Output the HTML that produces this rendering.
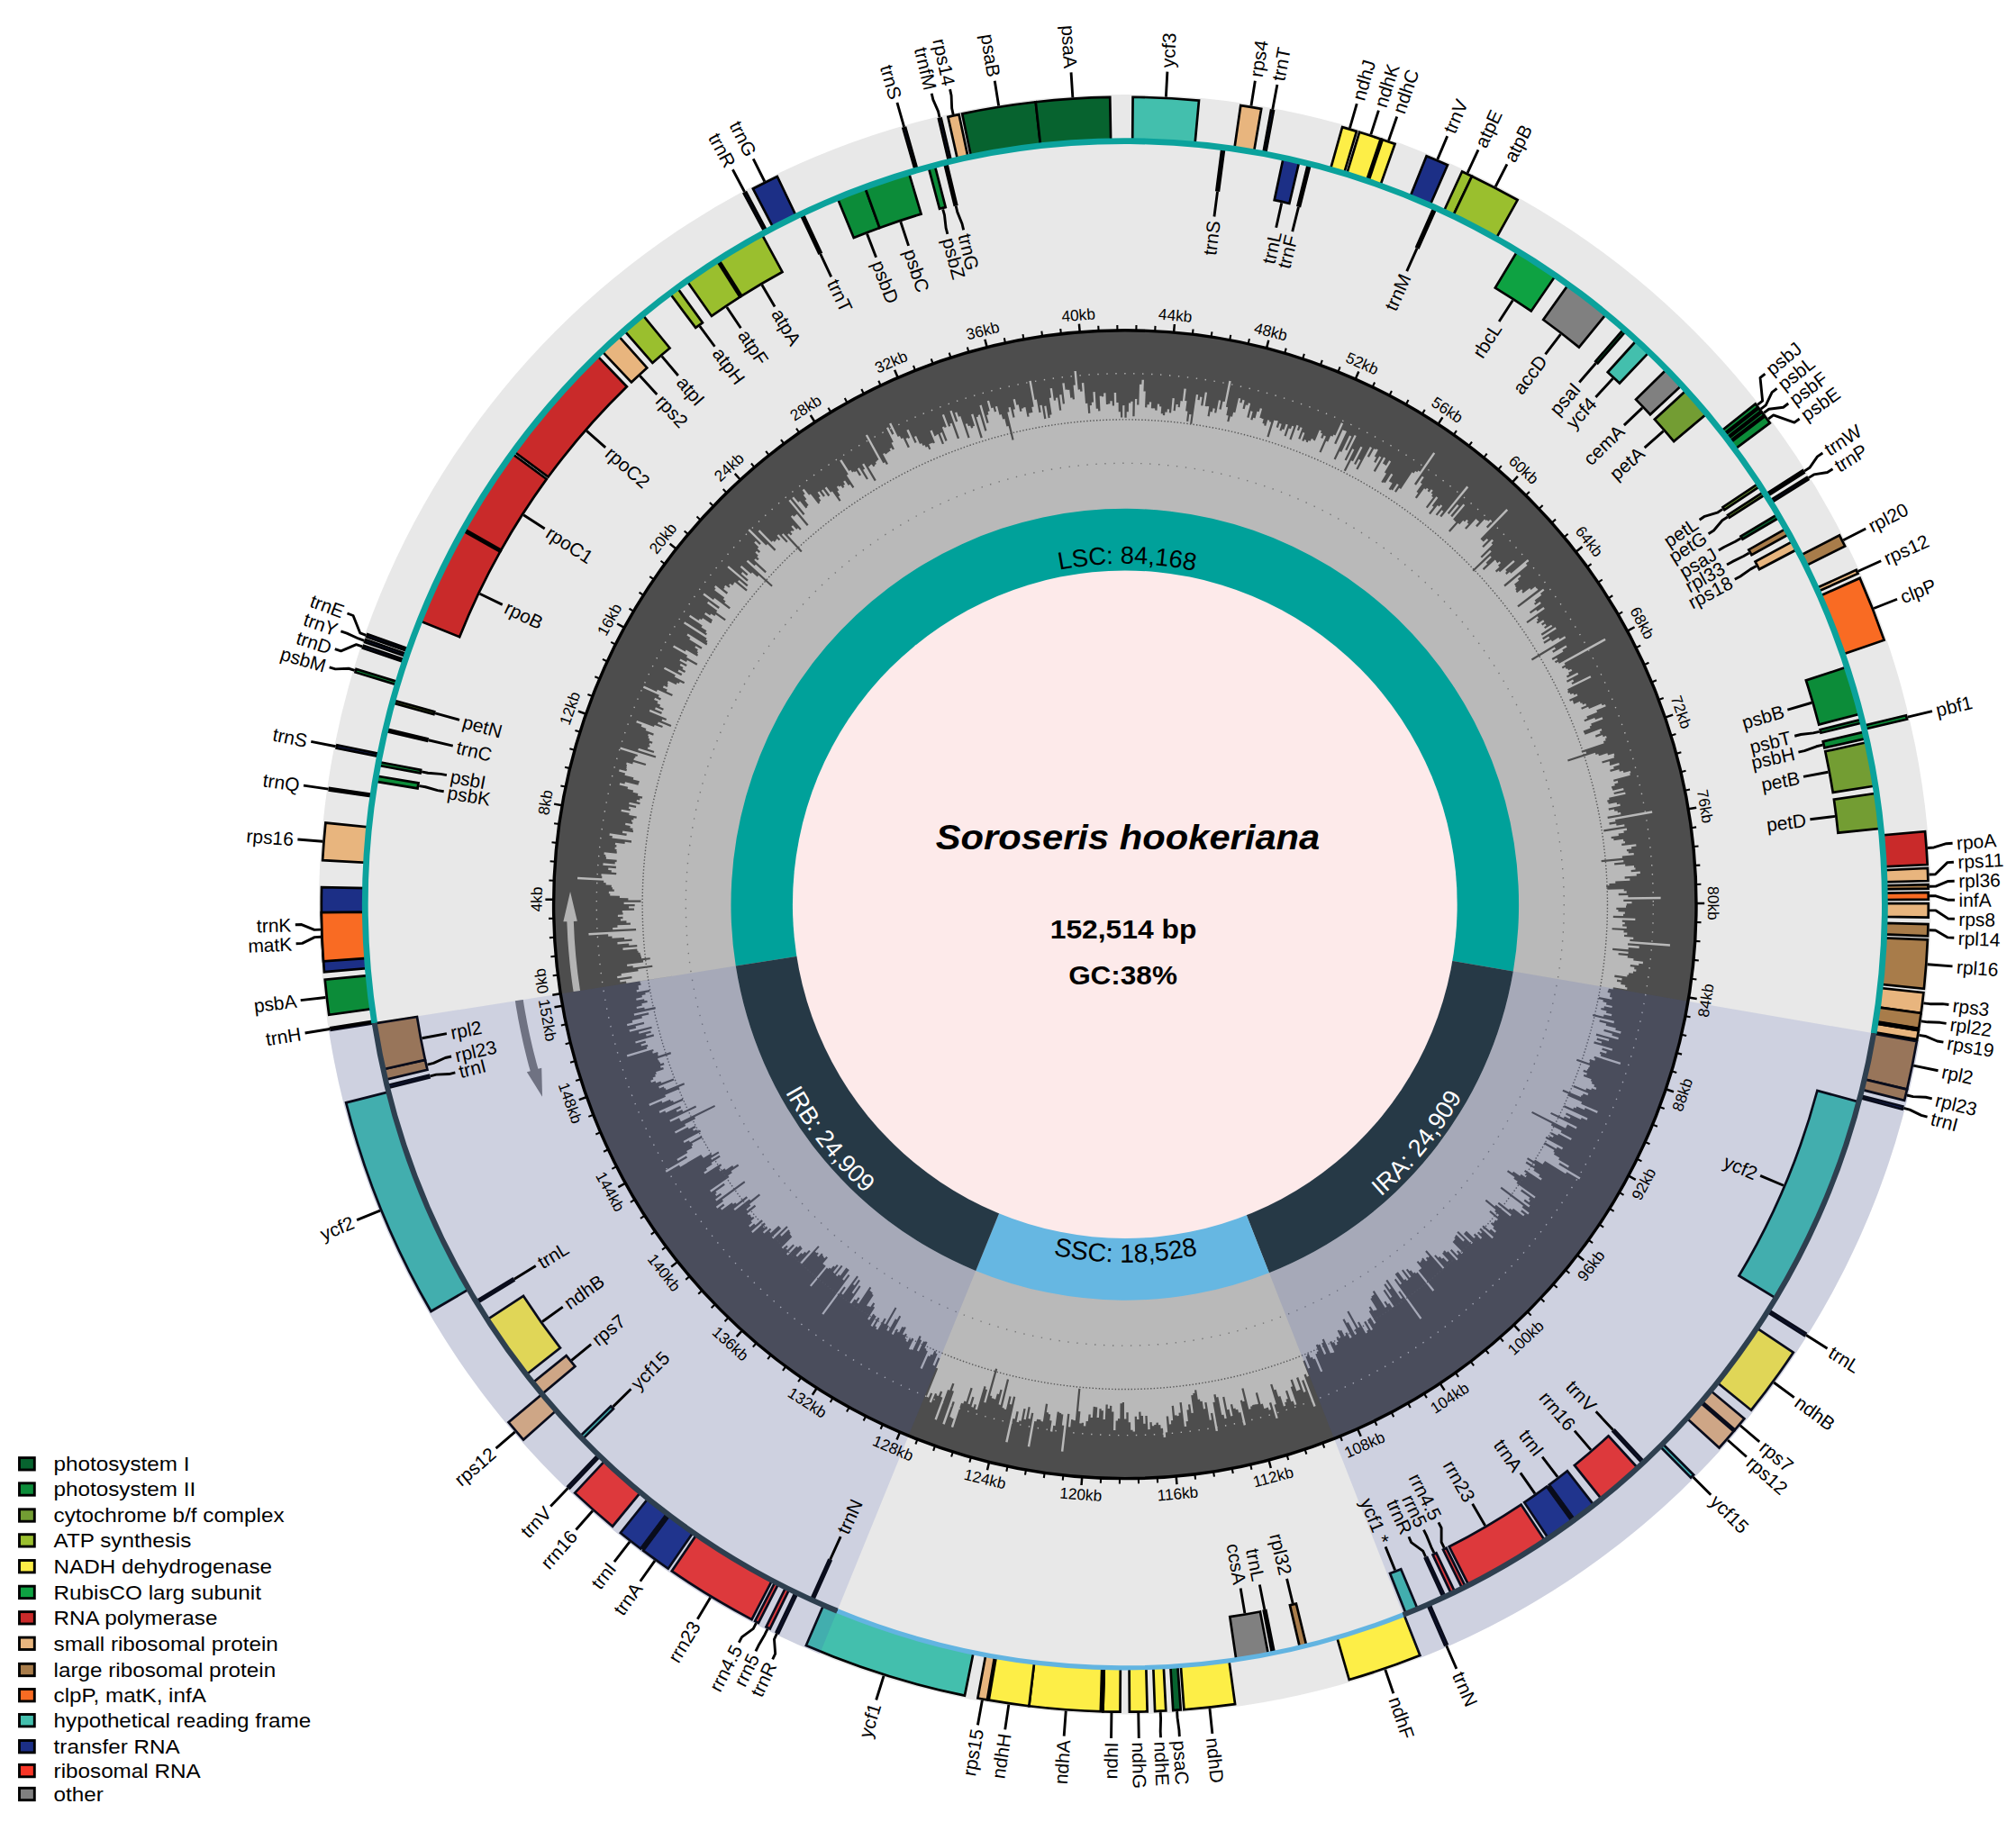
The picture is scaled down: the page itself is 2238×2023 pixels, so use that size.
<!DOCTYPE html>
<html><head><meta charset="utf-8"><title>Soroseris hookeriana chloroplast genome</title>
<style>html,body{margin:0;padding:0;background:#fff}svg{display:block}text{font-family:"Liberation Sans",Arial,Helvetica,sans-serif}</style>
</head><body>
<svg width="2238" height="2023" viewBox="0 0 2238 2023">
<rect width="2238" height="2023" fill="#fff"/>
<g transform="translate(1248.8,1004.2) scale(0.9975,1.0025)">
<circle r="897.0" fill="#e8e8e8"/>
<circle r="635.8" fill="#4d4d4d"/>
<path d="M-433.1,68.2 L-554.8,87.4 L-555.2,85.1 L-561.8,86.1 L-562.1,83.8 L-548.6,81.8 L-548.9,79.5 L-564.8,81.8 L-565.2,79.5 L-560.3,78.8 L-560.6,76.5 L-541.6,73.9 L-541.9,71.7 L-525.7,69.5 L-526,67.4 L-547.4,70.1 L-547.7,67.8 L-553.9,68.6 L-554.2,66.3 L-536,64.2 L-536.3,61.9 L-528.3,61 L-528.5,58.8 L-538.1,59.9 L-538.3,57.7 L-538.7,57.7 L-538.9,55.5 L-539.4,55.6 L-539.6,53.3 L-541.5,53.5 L-541.7,51.3 L-542.7,51.4 L-542.9,49.1 L-558.6,50.6 L-558.8,48.3 L-542.8,46.9 L-543,44.7 L-551.9,45.4 L-552.1,43.1 L-564.7,44.1 L-564.8,41.8 L-548.4,40.5 L-548.6,38.3 L-557,38.9 L-557.2,36.6 L-570.7,37.5 L-570.8,35.1 L-575,35.4 L-575.1,33 L-596.7,34.2 L-596.9,31.8 L-544,29 L-544.2,26.7 L-570,28 L-570.1,25.7 L-564.7,25.4 L-564.8,23.1 L-550.2,22.5 L-550.3,20.2 L-554.7,20.4 L-554.8,18.1 L-561.2,18.3 L-561.3,16 L-558.7,15.9 L-558.8,13.6 L-564.3,13.8 L-564.3,11.4 L-558.6,11.3 L-558.6,9 L-559.4,9 L-559.4,6.7 L-546.1,6.6 L-546.2,4.3 L-552.1,4.4 L-552.1,2.1 L-545.5,2.1 L-545.5,-0.2 L-557.6,-0.2 L-557.6,-2.5 L-538.7,-2.4 L-538.6,-4.6 L-552.8,-4.8 L-552.8,-7 L-562.3,-7.2 L-562.3,-9.5 L-573,-9.6 L-573,-12 L-574.4,-12 L-574.3,-14.4 L-568.4,-14.3 L-568.4,-16.6 L-570.3,-16.7 L-570.3,-19 L-571.5,-19 L-571.4,-21.4 L-577.6,-21.6 L-577.5,-24 L-580.1,-24.1 L-580,-26.5 L-609.4,-27.9 L-609.2,-30.4 L-582,-29 L-581.9,-31.4 L-582.8,-31.5 L-582.7,-33.9 L-566.1,-32.9 L-565.9,-35.2 L-571.5,-35.6 L-571.4,-37.9 L-575,-38.2 L-574.9,-40.5 L-566.4,-39.9 L-566.3,-42.3 L-580.9,-43.4 L-580.7,-45.8 L-567.6,-44.7 L-567.4,-47.1 L-565.7,-46.9 L-565.5,-49.3 L-577.4,-50.3 L-577.2,-52.7 L-578.1,-52.8 L-577.9,-55.1 L-579.8,-55.3 L-579.5,-57.7 L-565.6,-56.3 L-565.3,-58.6 L-565.9,-58.7 L-565.6,-61 L-567.7,-61.3 L-567.4,-63.6 L-566,-63.4 L-565.7,-65.8 L-567.4,-66 L-567.1,-68.3 L-556.7,-67 L-556.4,-69.3 L-549.3,-68.4 L-549.1,-70.7 L-570.7,-73.5 L-570.4,-75.9 L-573.8,-76.3 L-573.4,-78.7 L-554.8,-76.1 L-554.4,-78.4 L-559.3,-79.1 L-558.9,-81.4 L-547.4,-79.7 L-547.1,-81.9 L-547.9,-82.1 L-547.6,-84.3 L-550.8,-84.8 L-550.4,-87.1 L-556.1,-88 L-555.8,-90.3 L-548.1,-89 L-547.8,-91.3 L-549.3,-91.6 L-548.9,-93.8 L-547,-93.5 L-546.6,-95.7 L-543.7,-95.2 L-543.3,-97.5 L-551.9,-99 L-551.5,-101.3 L-560.7,-103 L-560.3,-105.3 L-550.6,-103.5 L-550.2,-105.7 L-552.3,-106.1 L-551.8,-108.4 L-544.3,-106.9 L-543.9,-109.2 L-552,-110.8 L-551.5,-113.1 L-540,-110.7 L-539.5,-112.9 L-543.6,-113.8 L-543.1,-116 L-540,-115.4 L-539.6,-117.6 L-537.4,-117.1 L-536.9,-119.4 L-542.3,-120.5 L-541.8,-122.8 L-547.6,-124.1 L-547.1,-126.3 L-553.6,-127.9 L-553.1,-130.1 L-562.6,-132.4 L-562,-134.7 L-556.8,-133.4 L-556.2,-135.7 L-541.7,-132.2 L-541.2,-134.4 L-540.8,-134.3 L-540.3,-136.6 L-547.3,-138.3 L-546.8,-140.6 L-556.7,-143.2 L-556.1,-145.4 L-563.2,-147.3 L-562.6,-149.6 L-554.8,-147.6 L-554.2,-149.8 L-555,-150 L-554.3,-152.3 L-554.8,-152.4 L-554.1,-154.7 L-555.1,-155 L-554.4,-157.3 L-548,-155.4 L-547.3,-157.7 L-533.6,-153.7 L-532.9,-155.9 L-546.8,-160 L-546.1,-162.2 L-545.2,-162 L-544.5,-164.2 L-542.8,-163.7 L-542.2,-165.9 L-562,-172 L-561.3,-174.3 L-522.5,-162.3 L-521.8,-164.4 L-541.9,-170.7 L-541.2,-173 L-524.5,-167.7 L-523.8,-169.8 L-531.3,-172.2 L-530.6,-174.4 L-529.1,-173.9 L-528.4,-176.1 L-529.7,-176.6 L-529,-178.7 L-526.4,-177.9 L-525.6,-180 L-529.6,-181.4 L-528.9,-183.6 L-530.6,-184.2 L-529.8,-186.3 L-531,-186.8 L-530.2,-188.9 L-525,-187.1 L-524.3,-189.3 L-533.5,-192.6 L-532.7,-194.8 L-538.4,-196.9 L-537.6,-199.1 L-544,-201.5 L-543.1,-203.7 L-524.2,-196.6 L-523.4,-198.8 L-515,-195.6 L-514.2,-197.7 L-520.1,-199.9 L-519.2,-202.1 L-505.6,-196.8 L-504.7,-198.8 L-515.6,-203.1 L-514.7,-205.2 L-510.8,-203.7 L-510,-205.8 L-529.4,-213.6 L-528.5,-215.8 L-516,-210.7 L-515.1,-212.8 L-523.1,-216.1 L-522.2,-218.3 L-514.1,-214.9 L-513.2,-217 L-517.9,-219 L-517,-221.1 L-520.6,-222.6 L-519.6,-224.8 L-524,-226.6 L-523,-228.8 L-517.1,-226.2 L-516.1,-228.3 L-519.3,-229.7 L-518.3,-231.8 L-536.3,-239.9 L-535.3,-242.1 L-521.2,-235.7 L-520.2,-237.9 L-504.1,-230.5 L-503.2,-232.6 L-510.3,-235.9 L-509.3,-238 L-514.2,-240.2 L-513.2,-242.3 L-509.5,-240.6 L-508.5,-242.7 L-509.3,-243.1 L-508.3,-245.2 L-509.2,-245.6 L-508.2,-247.7 L-499.4,-243.4 L-498.4,-245.5 L-496.3,-244.5 L-495.3,-246.5 L-490.9,-244.3 L-489.9,-246.3 L-501.2,-252.1 L-500.2,-254.1 L-513.2,-260.7 L-512.1,-262.8 L-493.8,-253.4 L-492.7,-255.5 L-497.5,-257.9 L-496.4,-260 L-490,-256.6 L-488.9,-258.6 L-492.5,-260.5 L-491.5,-262.5 L-495.4,-264.6 L-494.3,-266.7 L-488.4,-263.5 L-487.3,-265.5 L-495.7,-270.1 L-494.6,-272.1 L-488.1,-268.6 L-487,-270.6 L-476.7,-264.8 L-475.6,-266.8 L-488,-273.7 L-486.8,-275.8 L-503.1,-285 L-501.9,-287 L-489.4,-279.9 L-488.3,-281.9 L-476,-274.8 L-474.9,-276.8 L-476.1,-277.5 L-474.9,-279.5 L-476.3,-280.2 L-475.1,-282.2 L-478.7,-284.4 L-477.6,-286.3 L-471.6,-282.7 L-470.4,-284.7 L-484.8,-293.4 L-483.6,-295.4 L-487.6,-297.9 L-486.4,-299.9 L-465.7,-287.1 L-464.6,-289 L-465.6,-289.7 L-464.4,-291.6 L-466.5,-292.9 L-465.3,-294.8 L-491.1,-311.2 L-489.8,-313.2 L-466.2,-298.1 L-465,-300 L-466.8,-301.2 L-465.5,-303.1 L-471.5,-307 L-470.2,-309 L-485.1,-318.7 L-483.8,-320.7 L-474.4,-314.5 L-473.1,-316.4 L-471.2,-315.2 L-469.9,-317.1 L-460.9,-311.1 L-459.6,-313 L-460.1,-313.3 L-458.8,-315.2 L-468,-321.4 L-466.6,-323.4 L-461.9,-320.1 L-460.6,-322 L-456.7,-319.3 L-455.4,-321.2 L-445.4,-314.1 L-444.1,-315.9 L-454.9,-323.7 L-453.6,-325.5 L-465,-333.7 L-463.6,-335.6 L-452.4,-327.5 L-451,-329.4 L-469.6,-342.9 L-468.2,-344.9 L-458.1,-337.4 L-456.7,-339.3 L-440.4,-327.2 L-439,-329 L-445.7,-334 L-444.3,-335.8 L-447.1,-337.9 L-445.7,-339.8 L-456.8,-348.2 L-455.4,-350.1 L-457,-351.3 L-455.5,-353.2 L-443.2,-343.7 L-441.8,-345.5 L-446.7,-349.3 L-445.2,-351.2 L-446,-351.7 L-444.5,-353.6 L-440.6,-350.5 L-439.2,-352.3 L-440.8,-353.6 L-439.4,-355.4 L-436.8,-353.3 L-435.3,-355.1 L-435.6,-355.4 L-434.1,-357.1 L-421.5,-346.8 L-420.1,-348.5 L-430.9,-357.5 L-429.4,-359.2 L-420.8,-352 L-419.3,-353.8 L-442.5,-373.3 L-441,-375.1 L-420.6,-357.8 L-419.1,-359.5 L-427.1,-366.4 L-425.6,-368.2 L-420.9,-364.1 L-419.4,-365.8 L-428.2,-373.5 L-426.6,-375.2 L-416.3,-366.2 L-414.8,-367.9 L-409.1,-362.8 L-407.6,-364.5 L-393.4,-351.8 L-392,-353.4 L-421.2,-379.8 L-419.6,-381.5 L-412.3,-374.9 L-410.8,-376.6 L-400.4,-367 L-398.9,-368.7 L-412.6,-381.4 L-411,-383 L-408.8,-381 L-407.2,-382.7 L-409.5,-384.9 L-408,-386.6 L-411.4,-389.8 L-409.8,-391.5 L-407.4,-389.2 L-405.7,-390.9 L-409.1,-394.1 L-407.5,-395.8 L-412.6,-400.7 L-410.9,-402.4 L-406.6,-398.2 L-405,-399.9 L-419.5,-414.2 L-417.8,-415.9 L-399.4,-397.6 L-397.7,-399.3 L-390,-391.5 L-388.4,-393.1 L-408.2,-413.2 L-406.5,-414.8 L-393.3,-401.4 L-391.6,-403 L-390.1,-401.4 L-388.4,-403 L-388.7,-403.3 L-387,-404.9 L-385.1,-402.9 L-383.5,-404.5 L-387.2,-408.4 L-385.5,-410 L-376.7,-400.6 L-375.1,-402.2 L-381.9,-409.5 L-380.2,-411 L-360.7,-390 L-359.1,-391.5 L-375.6,-409.4 L-373.9,-411 L-371.9,-408.8 L-370.2,-410.3 L-372.3,-412.6 L-370.6,-414.2 L-369.7,-413.2 L-368,-414.7 L-371.3,-418.4 L-369.6,-419.9 L-365.5,-415.3 L-363.8,-416.8 L-361.7,-414.4 L-360,-415.9 L-371.8,-429.5 L-370,-431 L-368.5,-429.3 L-366.7,-430.8 L-366.8,-430.9 L-365,-432.4 L-353.9,-419.2 L-352.1,-420.6 L-374.3,-447.1 L-372.4,-448.6 L-358,-431.2 L-356.2,-432.7 L-370.5,-450.1 L-368.6,-451.6 L-363.5,-445.3 L-361.7,-446.8 L-355.1,-438.7 L-353.3,-440.2 L-353.9,-440.9 L-352.1,-442.4 L-356.2,-447.5 L-354.3,-448.9 L-357.8,-453.4 L-356,-454.9 L-359,-458.7 L-357.1,-460.2 L-351.6,-453.2 L-349.8,-454.6 L-341.2,-443.5 L-339.4,-444.9 L-340.2,-445.9 L-338.3,-447.3 L-340.8,-450.6 L-338.9,-452 L-342.1,-456.2 L-340.2,-457.6 L-335.6,-451.4 L-333.7,-452.8 L-337.8,-458.2 L-335.9,-459.6 L-330.2,-451.9 L-328.3,-453.3 L-334,-461.1 L-332.1,-462.5 L-327.6,-456.2 L-325.7,-457.5 L-317.8,-446.4 L-316,-447.7 L-318.9,-451.8 L-317,-453.1 L-320.1,-457.6 L-318.3,-458.9 L-320.7,-462.4 L-318.8,-463.8 L-318,-462.6 L-316.1,-463.9 L-314.1,-461 L-312.2,-462.3 L-313.4,-464.1 L-311.5,-465.4 L-313.4,-468.3 L-311.5,-469.5 L-307.8,-464 L-305.9,-465.3 L-303.1,-461.1 L-301.2,-462.3 L-309.7,-475.3 L-307.8,-476.6 L-317.4,-491.5 L-315.3,-492.8 L-307.2,-480 L-305.2,-481.3 L-303.5,-478.6 L-301.5,-479.8 L-300.8,-478.7 L-298.8,-480 L-295.5,-474.6 L-293.5,-475.8 L-297.7,-482.5 L-295.7,-483.7 L-287.5,-470.4 L-285.6,-471.6 L-291.4,-481.2 L-289.4,-482.4 L-292.4,-487.3 L-290.4,-488.5 L-278.7,-468.9 L-276.8,-470.1 L-285.5,-484.8 L-283.5,-485.9 L-283.7,-486.5 L-281.7,-487.6 L-280,-484.7 L-278,-485.8 L-278.6,-486.8 L-276.6,-488 L-277.7,-489.9 L-275.7,-491 L-276,-491.6 L-274,-492.7 L-288.7,-519.3 L-286.6,-520.5 L-269.1,-488.7 L-267.1,-489.8 L-265.5,-486.9 L-263.5,-488 L-269.4,-498.9 L-267.3,-500 L-266.5,-498.5 L-264.5,-499.6 L-264.7,-500 L-262.6,-501.1 L-262.8,-501.5 L-260.7,-502.5 L-261.9,-504.7 L-259.8,-505.8 L-258.6,-503.4 L-256.5,-504.5 L-259.9,-511.1 L-257.7,-512.2 L-265.5,-527.6 L-263.4,-528.7 L-259.1,-520.2 L-257,-521.3 L-262.4,-532.3 L-260.2,-533.4 L-252.7,-517.9 L-250.5,-518.9 L-249,-515.7 L-246.8,-516.7 L-241.6,-505.8 L-239.5,-506.8 L-243.9,-516 L-241.8,-517 L-241.3,-516 L-239.2,-517 L-243,-525.2 L-240.8,-526.2 L-233.8,-510.9 L-231.7,-511.9 L-234.5,-518 L-232.3,-519 L-228.3,-510 L-226.2,-511 L-224.9,-508 L-222.8,-508.9 L-221.6,-506.2 L-219.5,-507.1 L-218,-503.6 L-216,-504.5 L-218.2,-509.7 L-216.1,-510.6 L-216,-510.5 L-213.9,-511.4 L-213.5,-510.4 L-211.4,-511.3 L-216.9,-524.5 L-214.7,-525.4 L-211.9,-518.5 L-209.8,-519.4 L-210,-519.9 L-207.8,-520.8 L-203.4,-509.6 L-201.3,-510.4 L-205.8,-521.9 L-203.7,-522.8 L-199.8,-512.9 L-197.7,-513.8 L-203.4,-528.5 L-201.2,-529.4 L-200.7,-528 L-198.5,-528.8 L-203.5,-542.1 L-201.3,-542.9 L-196.2,-529.2 L-194,-530 L-194.9,-532.4 L-192.7,-533.2 L-186.4,-515.7 L-184.2,-516.5 L-194.9,-546.4 L-192.7,-547.2 L-188.2,-534.4 L-186,-535.2 L-189.2,-544.6 L-187,-545.4 L-185.2,-540.2 L-183,-540.9 L-174.7,-516.5 L-172.6,-517.2 L-177.5,-532 L-175.3,-532.7 L-174.3,-529.7 L-172.1,-530.4 L-171.1,-527.3 L-169,-528 L-169.4,-529.4 L-167.2,-530.1 L-171.2,-542.6 L-168.9,-543.3 L-160.6,-516.5 L-158.4,-517.1 L-165.4,-539.7 L-163.1,-540.3 L-163.6,-541.9 L-161.4,-542.5 L-155.9,-524.1 L-153.7,-524.8 L-161.8,-552.5 L-159.6,-553.2 L-153.7,-532.9 L-151.5,-533.6 L-153.9,-541.9 L-151.7,-542.5 L-152.6,-545.9 L-150.4,-546.5 L-153.4,-557.5 L-151.1,-558.1 L-148.8,-549.6 L-146.5,-550.2 L-145.2,-545.4 L-143,-546 L-144.4,-551.3 L-142.1,-551.9 L-139.6,-542.2 L-137.4,-542.8 L-136,-537.3 L-133.8,-537.9 L-131.7,-529.4 L-129.5,-529.9 L-125.6,-514.1 L-123.5,-514.6 L-130.8,-545.1 L-128.6,-545.6 L-129.7,-550.3 L-127.4,-550.9 L-124.7,-539.2 L-122.5,-539.7 L-124.4,-548.2 L-122.1,-548.7 L-124.5,-559.3 L-122.2,-559.8 L-120.7,-553.1 L-118.4,-553.5 L-116.8,-545.8 L-114.5,-546.3 L-115.2,-549.2 L-112.9,-549.7 L-113,-550.3 L-110.7,-550.7 L-108.6,-540 L-106.4,-540.4 L-107.1,-544 L-104.8,-544.4 L-104.8,-544.5 L-102.6,-544.9 L-103.7,-550.9 L-101.4,-551.3 L-106.7,-579.7 L-104.3,-580.1 L-100.5,-558.9 L-98.2,-559.4 L-95.6,-544.7 L-93.4,-545.1 L-94.7,-552.7 L-92.4,-553.1 L-89.8,-537.7 L-87.6,-538.1 L-89.8,-551.9 L-87.6,-552.3 L-85.4,-538.6 L-83.2,-539 L-83.7,-542.2 L-81.4,-542.5 L-84.2,-560.9 L-81.9,-561.2 L-83.4,-571.5 L-81,-571.8 L-79.1,-558 L-76.8,-558.3 L-77.1,-561.1 L-74.8,-561.4 L-72.9,-547.1 L-70.7,-547.4 L-72.9,-564.4 L-70.5,-564.7 L-69.2,-554.2 L-66.9,-554.5 L-69.7,-577.2 L-67.3,-577.5 L-66.4,-570.1 L-64.1,-570.3 L-64,-569.7 L-61.7,-570 L-60.7,-561 L-58.4,-561.3 L-58.2,-559.4 L-55.9,-559.6 L-57.4,-575.1 L-55.1,-575.3 L-56.5,-590.6 L-54.1,-590.8 L-52.2,-570.1 L-49.9,-570.4 L-49.7,-568.1 L-47.3,-568.3 L-48.1,-577.6 L-45.7,-577.8 L-43.9,-554.9 L-41.6,-555.1 L-40.8,-543.8 L-38.5,-544 L-39.1,-552.6 L-36.9,-552.7 L-37.1,-556.1 L-34.8,-556.3 L-35.5,-567.6 L-33.2,-567.8 L-32.1,-549.1 L-29.8,-549.2 L-29.7,-546.4 L-27.4,-546.5 L-28.2,-563 L-25.9,-563.1 L-25.9,-562.4 L-23.6,-562.5 L-23.7,-566.4 L-21.4,-566.5 L-20.9,-553.7 L-18.6,-553.8 L-18.7,-554.4 L-16.4,-554.5 L-16.5,-557.5 L-14.2,-557.5 L-14,-552.4 L-11.8,-552.4 L-12.1,-566.8 L-9.7,-566.9 L-9.5,-555.8 L-7.2,-555.8 L-7.1,-545.6 L-4.9,-545.7 L-4.8,-539.4 L-2.6,-539.4 L-2.6,-552.6 L-0.4,-552.7 L-0.4,-539 L1.9,-539 L1.9,-545.7 L4.1,-545.6 L4.2,-555.4 L6.5,-555.4 L6.5,-557.1 L8.8,-557.1 L8.5,-540.7 L10.8,-540.7 L11.2,-559.9 L13.5,-559.8 L13.3,-553.3 L15.6,-553.2 L16.2,-575.9 L18.6,-575.9 L18.8,-580.9 L21.2,-580.9 L20.7,-568.3 L23,-568.2 L22.3,-550.5 L24.6,-550.4 L24.7,-553.6 L27,-553.5 L27.2,-556.5 L29.5,-556.4 L29.1,-549.6 L31.4,-549.4 L31.4,-549.5 L33.6,-549.3 L33.5,-547.3 L35.8,-547.1 L36.2,-554.2 L38.5,-554.1 L38.3,-551.5 L40.6,-551.4 L40,-543.7 L42.3,-543.6 L42.1,-541.9 L44.4,-541.7 L44.7,-545.3 L46.9,-545.1 L47.2,-548.5 L49.5,-548.3 L49.1,-544.6 L51.4,-544.4 L52.9,-560.9 L55.2,-560.6 L53.9,-546.8 L56.1,-546.6 L56.9,-553.9 L59.2,-553.7 L58.9,-550.8 L61.1,-550.6 L61.9,-557.7 L64.2,-557.4 L65.8,-571.2 L68.2,-570.9 L66.6,-557.8 L68.9,-557.5 L67.5,-546.5 L69.8,-546.2 L68.4,-535.2 L70.6,-534.9 L71.6,-542.9 L73.9,-542.6 L72.5,-532.3 L74.6,-532 L79.3,-564.9 L81.6,-564.6 L80.8,-558.8 L83.1,-558.5 L83.6,-562.3 L85.9,-561.9 L84.5,-552.6 L86.8,-552.2 L89.2,-567.4 L91.5,-567.1 L89.1,-551.8 L91.3,-551.5 L91.4,-551.9 L93.7,-551.5 L91.9,-540.8 L94.1,-540.4 L95,-545.8 L97.3,-545.4 L98,-549.5 L100.3,-549.1 L99.5,-544.7 L101.7,-544.3 L104.4,-558.5 L106.7,-558.1 L104.8,-548.5 L107.1,-548.1 L108.9,-557.1 L111.2,-556.7 L115.8,-580.1 L118.2,-579.6 L112.4,-551 L114.6,-550.5 L112.8,-541.8 L115.1,-541.4 L113.7,-534.9 L115.9,-534.5 L117.3,-540.7 L119.5,-540.2 L120.6,-545.1 L122.8,-544.6 L126.5,-560.7 L128.8,-560.2 L127.7,-555.8 L130,-555.2 L130.9,-559 L133.2,-558.4 L131,-549 L133.2,-548.5 L134.4,-553.3 L136.7,-552.8 L137.4,-555.5 L139.7,-554.9 L135.8,-539.5 L138,-538.9 L139.9,-546.5 L142.2,-545.9 L139.8,-536.9 L142,-536.3 L142.7,-539 L145,-538.4 L147.1,-546.2 L149.3,-545.5 L150.4,-549.7 L152.7,-549.1 L149.9,-539.1 L152.2,-538.5 L152.1,-538.2 L154.3,-537.6 L153,-532.9 L155.2,-532.3 L154.7,-530.6 L156.8,-529.9 L158.8,-536.7 L161,-536 L160.6,-534.6 L162.8,-534 L158,-518.1 L160.1,-517.4 L166,-536.3 L168.2,-535.6 L168.3,-536.1 L170.5,-535.4 L168.3,-528.6 L170.5,-527.9 L172.1,-532.8 L174.3,-532 L172,-525 L174.2,-524.3 L174.9,-526.5 L177.1,-525.8 L179.2,-532.2 L181.4,-531.4 L177.2,-519.1 L179.3,-518.4 L182.4,-527.4 L184.6,-526.6 L185.9,-530.2 L188,-529.4 L183,-515.3 L185.1,-514.5 L191.1,-531 L193.3,-530.2 L191.5,-525.4 L193.7,-524.6 L195.2,-528.7 L197.4,-527.9 L192.9,-515.9 L195,-515.1 L198,-523 L200.1,-522.1 L196.9,-513.7 L199,-512.9 L199.8,-514.8 L201.9,-514 L201.3,-512.5 L203.4,-511.7 L204.3,-514 L206.4,-513.1 L207.6,-515.9 L209.7,-515.1 L209.4,-514.3 L211.5,-513.4 L216.5,-525.5 L218.6,-524.6 L217.7,-522.3 L219.8,-521.4 L217.9,-516.8 L220,-515.9 L221.5,-519.4 L223.7,-518.5 L216.2,-501.2 L218.3,-500.4 L223.9,-513.2 L226,-512.3 L229,-519.2 L231.2,-518.2 L232.1,-520.3 L234.2,-519.3 L240.7,-533.6 L242.9,-532.6 L232.9,-510.7 L235,-509.7 L242.3,-525.7 L244.5,-524.7 L244.6,-524.9 L246.8,-523.9 L232.4,-493.4 L234.4,-492.5 L239,-502 L241,-501 L249.9,-519.5 L252.1,-518.5 L245,-503.8 L247,-502.8 L255.5,-520 L257.6,-518.9 L244.4,-492.4 L246.4,-491.4 L253.2,-504.7 L255.2,-503.7 L243.6,-480.7 L245.6,-479.7 L251.7,-491.7 L253.8,-490.7 L262.3,-507.2 L264.4,-506.1 L254.9,-487.9 L256.9,-486.9 L260.2,-493.1 L262.2,-492 L257.2,-482.6 L259.2,-481.6 L272.8,-506.9 L274.9,-505.8 L269.7,-496.2 L271.8,-495.1 L277.1,-504.8 L279.1,-503.6 L279.7,-504.6 L281.7,-503.4 L277.7,-496.2 L279.8,-495.1 L277,-490.2 L279,-489 L283.2,-496.5 L285.3,-495.3 L276.6,-480.3 L278.6,-479.1 L288,-495.4 L290.1,-494.2 L286.8,-488.6 L288.8,-487.4 L288.8,-487.3 L290.8,-486.1 L294.1,-491.6 L296.1,-490.4 L288.9,-478.5 L290.9,-477.3 L285.2,-468 L287.1,-466.8 L287.8,-467.9 L289.7,-466.7 L296.3,-477.3 L298.3,-476.1 L293.7,-468.8 L295.6,-467.6 L295.7,-467.7 L297.6,-466.5 L293.6,-460.1 L295.5,-458.9 L296,-459.8 L297.9,-458.6 L302.8,-466.1 L304.7,-464.8 L300,-457.6 L301.8,-456.3 L305.2,-461.3 L307.1,-460.1 L319.5,-478.7 L321.4,-477.4 L323.2,-480 L325.2,-478.7 L326.5,-480.6 L328.5,-479.2 L343.3,-500.8 L345.3,-499.4 L322,-465.7 L324,-464.4 L330.8,-474.3 L332.8,-472.9 L328.8,-467.3 L330.8,-465.9 L324.5,-457 L326.3,-455.7 L322.9,-450.9 L324.8,-449.6 L333,-460.9 L334.9,-459.6 L336,-461.2 L337.9,-459.8 L336.6,-458 L338.5,-456.6 L340.9,-459.8 L342.8,-458.4 L340.7,-455.6 L342.6,-454.2 L341.2,-452.3 L343,-450.9 L334.9,-440.2 L336.7,-438.9 L346.5,-451.7 L348.4,-450.2 L341.8,-441.7 L343.6,-440.3 L338.2,-433.3 L339.9,-431.9 L347.9,-442.1 L349.8,-440.6 L351.5,-442.8 L353.3,-441.4 L345.8,-431.9 L347.5,-430.5 L352.6,-436.8 L354.4,-435.3 L350.4,-430.4 L352.2,-429 L380.5,-463.5 L382.4,-461.9 L358.9,-433.5 L360.7,-432.1 L369.8,-443 L371.7,-441.5 L362.4,-430.5 L364.2,-429 L376.6,-443.6 L378.4,-442 L365.2,-426.6 L366.9,-425.1 L366.8,-425 L368.6,-423.4 L360.1,-413.8 L361.8,-412.3 L370.7,-422.4 L372.5,-420.9 L376.4,-425.3 L378.1,-423.7 L380.4,-426.3 L382.1,-424.7 L380.7,-423.1 L382.5,-421.5 L378.2,-416.9 L379.9,-415.3 L390.7,-427.1 L392.4,-425.5 L392.5,-425.5 L394.3,-423.9 L390.3,-419.6 L392,-418 L400.2,-426.7 L401.9,-425.1 L402.8,-426 L404.5,-424.3 L406.6,-426.5 L408.3,-424.8 L402.1,-418.3 L403.8,-416.6 L424.6,-438 L426.4,-436.3 L395.7,-404.9 L397.3,-403.2 L397.4,-403.2 L399,-401.6 L402.7,-405.3 L404.4,-403.7 L397.5,-396.8 L399.1,-395.2 L408.5,-404.4 L410.2,-402.8 L407.7,-400.3 L409.3,-398.6 L395.7,-385.3 L397.3,-383.7 L406.3,-392.4 L407.9,-390.8 L386.6,-370.3 L388.1,-368.7 L406.4,-386.1 L408,-384.4 L401.8,-378.6 L403.3,-376.9 L398,-371.9 L399.5,-370.3 L412,-381.8 L413.5,-380.1 L413.1,-379.8 L414.7,-378 L416.8,-380 L418.4,-378.3 L415.2,-375.4 L416.8,-373.7 L412.1,-369.5 L413.7,-367.8 L415.8,-369.7 L417.3,-368 L432.4,-381.3 L433.9,-379.5 L423.5,-370.4 L425,-368.6 L423.3,-367.2 L424.8,-365.4 L428.2,-368.3 L429.7,-366.6 L448.2,-382.3 L449.7,-380.4 L446.2,-377.5 L447.8,-375.6 L421.6,-353.7 L423,-351.9 L439.3,-365.4 L440.8,-363.6 L437.1,-360.6 L438.6,-358.8 L433.3,-354.5 L434.8,-352.7 L434.3,-352.3 L435.8,-350.5 L434.4,-349.4 L435.8,-347.6 L435,-346.9 L436.4,-345.1 L441.4,-349.1 L442.8,-347.3 L441.6,-346.3 L443,-344.5 L450.5,-350.3 L451.9,-348.4 L456.6,-352 L458,-350.1 L458.3,-350.4 L459.8,-348.5 L436.6,-330.9 L438,-329.1 L465.4,-349.7 L466.8,-347.8 L462.3,-344.4 L463.7,-342.5 L456,-336.8 L457.4,-334.9 L455.3,-333.4 L456.7,-331.5 L461.8,-335.3 L463.2,-333.4 L450.2,-324 L451.5,-322.1 L457.6,-326.5 L458.9,-324.6 L465.8,-329.5 L467.2,-327.5 L446.7,-313.2 L448,-311.3 L459.1,-319.1 L460.4,-317.2 L458.4,-315.8 L459.7,-313.9 L457.9,-312.7 L459.2,-310.8 L465.5,-315.1 L466.8,-313.1 L463.4,-310.8 L464.6,-308.9 L467.7,-310.9 L469,-309 L466.4,-307.3 L467.6,-305.4 L474.5,-309.8 L475.7,-307.9 L463,-299.7 L464.3,-297.8 L479,-307.2 L480.2,-305.2 L464.4,-295.2 L465.7,-293.3 L471.5,-296.9 L472.7,-295 L465.7,-290.6 L466.9,-288.7 L474.2,-293.2 L475.4,-291.3 L482.6,-295.7 L483.8,-293.7 L489.5,-297.1 L490.7,-295.1 L452.2,-272 L453.3,-270.1 L478.2,-284.9 L479.4,-282.9 L475.5,-280.7 L476.7,-278.7 L490.8,-287 L492,-285 L486.7,-281.9 L487.9,-279.9 L475,-272.5 L476.1,-270.6 L480.5,-273 L481.6,-271 L478.3,-269.2 L479.4,-267.2 L482.1,-268.7 L483.2,-266.7 L534,-294.7 L535.2,-292.5 L489,-267.3 L490.1,-265.3 L486.2,-263.1 L487.2,-261.1 L490.1,-262.7 L491.1,-260.6 L492.5,-261.4 L493.6,-259.3 L496.6,-260.9 L497.7,-258.9 L493.5,-256.7 L494.6,-254.7 L491.4,-253 L492.4,-251 L503.7,-256.7 L504.7,-254.7 L491.4,-247.9 L492.4,-245.9 L498.5,-249 L499.6,-246.9 L496.9,-245.6 L497.9,-243.5 L517.9,-253.3 L518.9,-251.2 L492.5,-238.4 L493.5,-236.4 L492.5,-235.9 L493.5,-233.9 L495,-234.6 L495.9,-232.5 L498.9,-233.9 L499.9,-231.9 L502.9,-233.3 L503.9,-231.2 L494.5,-226.9 L495.4,-224.9 L498.2,-226.1 L499.1,-224.1 L498.7,-223.9 L499.7,-221.8 L506.3,-224.8 L507.2,-222.7 L508.7,-223.3 L509.6,-221.2 L512.7,-222.6 L513.6,-220.5 L507.6,-217.9 L508.5,-215.8 L515.6,-218.8 L516.5,-216.7 L530.2,-222.5 L531.2,-220.3 L534.4,-221.6 L535.3,-219.4 L524.7,-215.1 L525.6,-212.9 L513.8,-208.1 L514.7,-206 L510.9,-204.5 L511.7,-202.4 L522.7,-206.8 L523.6,-204.6 L531.1,-207.5 L531.9,-205.3 L518.6,-200.2 L519.5,-198.1 L517.2,-197.2 L518,-195.1 L510.1,-192.1 L510.9,-190 L511.2,-190.1 L512,-188 L530.1,-194.7 L530.9,-192.5 L528.4,-191.6 L529.2,-189.4 L523.4,-187.3 L524.2,-185.1 L531.5,-187.7 L532.2,-185.5 L535.5,-186.7 L536.3,-184.5 L534.5,-183.8 L535.2,-181.6 L532.4,-180.7 L533.2,-178.5 L508,-170.1 L508.7,-168 L513,-169.4 L513.7,-167.3 L492.5,-160.4 L493.2,-158.4 L523.4,-168.1 L524,-165.9 L526.8,-166.8 L527.5,-164.6 L536.9,-167.5 L537.6,-165.3 L544.2,-167.3 L544.9,-165.1 L544,-164.9 L544.7,-162.6 L530.7,-158.4 L531.4,-156.2 L539.2,-158.6 L539.8,-156.3 L539.2,-156.1 L539.8,-153.9 L549.8,-156.8 L550.4,-154.5 L543.7,-152.6 L544.3,-150.4 L539.7,-149.1 L540.4,-146.9 L549.9,-149.5 L550.5,-147.2 L554.4,-148.2 L555,-145.9 L562.4,-147.9 L563,-145.6 L561.8,-145.3 L562.4,-143 L543.6,-138.2 L544.2,-135.9 L548.3,-137 L548.9,-134.7 L544.8,-133.7 L545.4,-131.5 L541.4,-130.5 L541.9,-128.3 L542.4,-128.4 L543,-126.2 L554.6,-128.9 L555.2,-126.6 L544,-124 L544.5,-121.8 L556.7,-124.5 L557.2,-122.2 L538.7,-118.2 L539.1,-115.9 L536.7,-115.4 L537.1,-113.2 L537.8,-113.3 L538.3,-111.1 L547.2,-113 L547.6,-110.7 L550.9,-111.4 L551.4,-109.1 L538.1,-106.5 L538.6,-104.3 L544.5,-105.4 L544.9,-103.2 L548.1,-103.8 L548.5,-101.5 L551.6,-102.1 L552,-99.8 L537,-97.1 L537.4,-94.9 L586.6,-103.6 L587,-101.1 L545.6,-94 L546,-91.8 L538.9,-90.6 L539.2,-88.3 L546.7,-89.6 L547.1,-87.3 L555.8,-88.7 L556.1,-86.4 L532.7,-82.8 L533,-80.6 L558.4,-84.4 L558.7,-82.1 L555,-81.6 L555.4,-79.3 L549.2,-78.4 L549.5,-76.1 L541.1,-75 L541.4,-72.7 L543.8,-73.1 L544.1,-70.8 L554.6,-72.2 L554.9,-69.9 L556.4,-70.1 L556.7,-67.8 L552.7,-67.3 L553,-65 L568.8,-66.9 L569.1,-64.6 L563.6,-63.9 L563.8,-61.6 L558.4,-61 L558.6,-58.7 L560.3,-58.9 L560.5,-56.6 L566.2,-57.1 L566.5,-54.8 L553.4,-53.5 L553.6,-51.3 L530.1,-49.1 L530.3,-46.9 L554.8,-49.1 L555,-46.8 L544.6,-45.9 L544.8,-43.7 L556.7,-44.6 L556.9,-42.3 L566.6,-43.1 L566.7,-40.7 L568,-40.8 L568.2,-38.5 L563.2,-38.1 L563.4,-35.8 L573.4,-36.5 L573.5,-34.1 L569.3,-33.8 L569.5,-31.5 L556.2,-30.8 L556.3,-28.5 L561.9,-28.8 L562,-26.4 L545.8,-25.7 L545.9,-23.4 L539,-23.1 L539,-20.9 L535.7,-20.8 L535.8,-18.6 L536.8,-18.6 L536.9,-16.4 L555.3,-17 L555.3,-14.7 L558.3,-14.8 L558.3,-12.5 L549.3,-12.3 L549.4,-10 L559.9,-10.2 L560,-7.9 L596.3,-8.4 L596.3,-5.9 L554.9,-5.5 L554.9,-3.2 L564.1,-3.3 L564.1,-1 L558.4,-1 L558.4,1.4 L557.6,1.3 L557.6,3.6 L546.9,3.6 L546.9,5.8 L549,5.9 L549,8.1 L556.5,8.2 L556.4,10.5 L554.7,10.5 L554.6,12.8 L543.4,12.5 L543.3,14.7 L568,15.4 L567.9,17.8 L553.4,17.3 L553.4,19.6 L556.4,19.7 L556.3,22 L553.8,21.9 L553.7,24.2 L558.4,24.4 L558.3,26.7 L542.2,25.9 L542.1,28.1 L555.2,28.8 L555.1,31.1 L559,31.3 L558.8,33.6 L555.7,33.4 L555.6,35.7 L565.9,36.4 L565.8,38.7 L562.1,38.5 L561.9,40.8 L606.7,44 L606.6,46.5 L559.8,43 L559.6,45.3 L572.4,46.3 L572.2,48.7 L560.4,47.6 L560.2,50 L542.8,48.4 L542.6,50.6 L560.3,52.3 L560,54.6 L549.3,53.6 L549.1,55.8 L559.6,56.9 L559.3,59.2 L566.1,59.9 L565.9,62.2 L576.7,63.4 L576.4,65.8 L572,65.3 L571.7,67.7 L562.6,66.6 L562.3,68.9 L567,69.5 L566.8,71.8 L569.1,72.1 L568.8,74.4 L565.7,74 L565.4,76.4 L560.9,75.8 L560.6,78.1 L559.2,77.9 L558.8,80.2 L545.1,78.2 L544.8,80.5 L553.2,81.7 L552.9,84 L547.8,83.2 L547.5,85.5 L552.2,86.2 L551.8,88.5 L556.9,89.3 L556.6,91.6 L559.1,92 L558.7,94.3 L543.5,91.7 L543.1,94 L538.4,93.2 L538,95.4 L537.5,95.3 L537.1,97.5 L540.3,98.1 L539.9,100.3 L539.9,100.3 L539.5,102.5 L542.1,103 L541.7,105.3 L527.8,102.6 L527.3,104.7 L532.3,105.7 L531.9,107.9 L536,108.8 L535.5,111 L542.4,112.4 L541.9,114.6 L533.5,112.8 L533,115 L530.1,114.4 L529.7,116.6 L536,118 L535.5,120.2 L541.9,121.6 L541.4,123.8 L533.1,122 L532.6,124.2 L520.9,121.4 L520.4,123.6 L544.6,129.3 L544,131.6 L528.4,127.8 L527.9,130 L535.7,131.9 L535.2,134.1 L546.4,136.9 L545.9,139.2 L552.2,140.8 L551.6,143.1 L533.4,138.3 L532.8,140.5 L542.5,143.1 L541.9,145.3 L549.5,147.4 L548.9,149.6 L524.8,143 L524.2,145.2 L539,149.3 L538.3,151.5 L525.6,147.9 L525,150.1 L530.8,151.8 L530.2,154 L522.4,151.7 L521.7,153.8 L542.7,160 L542,162.2 L531.4,159 L530.7,161.2 L536.3,162.9 L535.6,165.1 L529,163.1 L528.3,165.3 L530,165.8 L529.3,168 L551.8,175.1 L551.1,177.4 L522.5,168.2 L521.9,170.4 L523.5,170.9 L522.8,173.1 L517.5,171.3 L516.8,173.4 L517.6,173.7 L516.8,175.8 L503.2,171.2 L502.4,173.2 L517.5,178.4 L516.7,180.6 L516.1,180.3 L515.4,182.5 L514.8,182.3 L514.1,184.4 L510.6,183.2 L509.9,185.3 L514.4,186.9 L513.6,189 L511.1,188.1 L510.3,190.2 L519.2,193.5 L518.4,195.6 L520.1,196.3 L519.3,198.4 L522.6,199.7 L521.8,201.8 L524.8,203 L524,205.2 L519.6,203.5 L518.7,205.6 L513.6,203.6 L512.8,205.7 L499.5,200.4 L498.7,202.4 L515.8,209.4 L514.9,211.5 L510.2,209.5 L509.3,211.6 L508.2,211.2 L507.3,213.3 L487.7,205 L486.9,207 L493.4,209.8 L492.5,211.8 L508.6,218.8 L507.7,220.9 L526.4,229 L525.4,231.1 L512.2,225.3 L511.3,227.4 L502.8,223.7 L501.9,225.8 L499.7,224.8 L498.8,226.8 L489.1,222.4 L488.2,224.4 L515,236.7 L514,238.9 L508.3,236.2 L507.3,238.3 L491.3,230.8 L490.4,232.8 L495.9,235.4 L494.9,237.5 L489.3,234.8 L488.3,236.8 L474.4,230.1 L473.5,232 L503.1,246.5 L502.1,248.6 L492.5,243.8 L491.4,245.9 L491.4,245.9 L490.4,247.9 L453.4,229.2 L452.4,231 L475.2,242.7 L474.2,244.6 L486,250.7 L485,252.7 L497.3,259.1 L496.2,261.2 L482.6,254 L481.5,256 L474.9,252.4 L473.8,254.4 L477.2,256.2 L476.1,258.2 L473,256.4 L471.9,258.4 L469.1,256.8 L468,258.8 L487.5,269.5 L486.4,271.5 L481.2,268.6 L480.1,270.6 L467.3,263.4 L466.2,265.4 L477.9,272 L476.8,274 L478.4,274.9 L477.3,276.9 L483.7,280.6 L482.5,282.6 L494.4,289.5 L493.2,291.6 L483.9,286.1 L482.7,288 L507,302.5 L505.7,304.6 L491.7,296.2 L490.5,298.2 L467.4,284.2 L466.3,286.1 L466,286 L464.8,287.9 L456.7,282.8 L455.5,284.7 L448.4,280.3 L447.3,282.1 L456.6,288 L455.4,289.9 L447.1,284.6 L445.9,286.5 L456,292.9 L454.8,294.8 L461.8,299.3 L460.5,301.2 L464.2,303.6 L462.9,305.5 L445.5,294 L444.3,295.9 L446.9,297.6 L445.6,299.4 L447.1,300.4 L445.9,302.3 L440.9,298.9 L439.7,300.7 L432.4,295.7 L431.2,297.5 L426.4,294.2 L425.2,296 L433.8,302 L432.6,303.8 L437.1,306.9 L435.8,308.7 L457,323.7 L455.7,325.6 L441.7,315.6 L440.3,317.4 L450.7,324.8 L449.3,326.7 L451.1,328 L449.8,329.9 L445.2,326.5 L443.9,328.4 L450.9,333.5 L449.5,335.4 L419.1,312.7 L417.8,314.4 L443.3,333.6 L441.9,335.4 L450,341.6 L448.6,343.4 L441.8,338.3 L440.4,340.1 L444.8,343.5 L443.4,345.3 L432.3,336.7 L430.9,338.4 L428.6,336.6 L427.2,338.3 L416.2,329.7 L414.9,331.4 L430.2,343.7 L428.8,345.4 L413,332.7 L411.6,334.4 L402.2,326.8 L400.9,328.4 L412.8,338.2 L411.4,339.9 L416.3,343.9 L414.8,345.6 L406.9,339 L405.5,340.6 L415.2,348.8 L413.7,350.5 L412.5,349.4 L411,351.1 L411.4,351.4 L409.9,353.1 L408.6,351.9 L407.1,353.6 L410.9,356.9 L409.5,358.6 L413.3,362 L411.8,363.7 L407.3,359.7 L405.8,361.4 L399,355.3 L397.5,357 L410.2,368.3 L408.7,370 L396,358.5 L394.5,360.2 L397.6,363 L396.1,364.6 L393.6,362.3 L392.1,363.9 L397.4,368.9 L395.9,370.5 L389.5,364.5 L388,366.1 L390.1,368.1 L388.6,369.8 L380.1,361.6 L378.6,363.2 L378.6,363.2 L377.1,364.8 L387.2,374.6 L385.7,376.1 L371,361.9 L369.5,363.4 L378,371.7 L376.5,373.3 L368.9,365.8 L367.4,367.3 L367.9,367.8 L366.4,369.3 L367.7,370.6 L366.1,372.1 L366.3,372.2 L364.7,373.8 L376.3,385.6 L374.7,387.2 L370.8,383.1 L369.2,384.6 L371.5,387 L369.9,388.6 L363.6,381.9 L362,383.4 L370.8,392.7 L369.2,394.2 L359.6,384 L358,385.5 L355.9,383.2 L354.3,384.6 L354.7,385.1 L353.1,386.5 L360.3,394.4 L358.7,395.9 L354.4,391.2 L352.8,392.6 L350.4,389.9 L348.7,391.4 L345.8,388 L344.2,389.4 L355.4,402.2 L353.8,403.6 L335.8,383.1 L334.2,384.5 L338.9,389.9 L337.3,391.3 L336.5,390.4 L334.9,391.8 L336.7,394 L335.1,395.3 L331.7,391.3 L330.1,392.7 L330.9,393.6 L329.2,395 L329.8,395.6 L328.1,396.9 L326.3,394.8 L324.7,396.1 L330.2,402.8 L328.6,404.2 L328.5,404.1 L326.8,405.5 L344.3,427.1 L342.5,428.5 L325.6,407.4 L323.9,408.7 L322.7,407.2 L321,408.5 L318.3,405.1 L316.7,406.4 L314.5,403.6 L312.9,404.9 L318.5,412.2 L316.8,413.6 L309.6,404.2 L308,405.5 L315.5,415.4 L313.8,416.7 L312.3,414.7 L310.6,416 L303.9,407.1 L302.2,408.3 L302.2,408.3 L300.6,409.5 L308.1,419.8 L306.3,421 L301.5,414.4 L299.8,415.7 L330.4,458.1 L328.5,459.5 L306,428 L304.2,429.2 L308.9,435.8 L307.1,437 L292.1,415.6 L290.3,416.8 L296.2,425.2 L294.4,426.4 L290,420 L288.2,421.2 L297.3,434.5 L295.5,435.7 L289.3,426.5 L287.5,427.7 L299.5,445.5 L297.7,446.7 L294.3,441.6 L292.4,442.8 L290.1,439.3 L288.3,440.5 L291.5,445.4 L289.7,446.6 L277.5,427.8 L275.7,428.9 L277.6,431.9 L275.8,433 L275.9,433.1 L274.1,434.3 L275,435.6 L273.2,436.7 L280.6,448.6 L278.8,449.8 L278.3,449.1 L276.5,450.2 L273.3,445.1 L271.5,446.2 L273.4,449.4 L271.6,450.6 L279.4,463.5 L277.5,464.7 L273.3,457.6 L271.4,458.7 L271.7,459.2 L269.8,460.4 L275.9,470.7 L273.9,471.8 L267.9,461.5 L266,462.6 L271,471.2 L269,472.3 L270,474.1 L268.1,475.2 L260.7,462.1 L258.8,463.2 L261.4,467.8 L259.5,468.9 L249.1,450.1 L247.2,451.1 L257.5,469.9 L255.5,470.9 L258,475.5 L256.1,476.6 L248.6,462.6 L246.7,463.6 L244.2,459 L242.3,460 L252.5,479.4 L250.5,480.5 L247.1,473.8 L245.1,474.8 L246.4,477.3 L244.4,478.3 L240.9,471.3 L238.9,472.3 L238.4,471.2 L236.4,472.2 L240.2,479.7 L238.2,480.7 L237.2,478.7 L235.2,479.7 L237.5,484.2 L235.5,485.2 L236.5,487.4 L234.5,488.3 L232.8,484.7 L230.8,485.7 L229.8,483.5 L227.8,484.5 L233.1,495.8 L231,496.7 L230.8,496.2 L228.7,497.1 L221.4,481.1 L219.4,482 L220.8,485.2 L218.8,486.1 L224,497.6 L221.9,498.5 L216.9,487.2 L214.9,488 L214.5,487.2 L212.5,488 L215.4,494.7 L213.4,495.6 L214,497.2 L212,498.1 L220,516.9 L217.9,517.8 L211.6,503 L209.6,503.9 L208.5,501.4 L206.5,502.3 L204.5,497.5 L202.5,498.3 L203.2,500.1 L201.1,500.9 L206.1,513.3 L203.9,514.1 L200.3,504.9 L198.2,505.7 L204.7,522.3 L202.6,523.2 L201.4,520.1 L199.2,520.9 L212.4,555.4 L210.1,556.3 L198.9,526.6 L196.8,527.4 L201.3,539.5 L199,540.4 L192.9,523.6 L190.7,524.4 L195.3,537.1 L193.1,537.9 L193.2,538.1 L191,538.9 L186.4,526 L184.2,526.8 L186.6,533.6 L184.4,534.4 L191.1,553.6 L188.8,554.4 L187.3,549.9 L185,550.7 L180.8,538.2 L178.6,539 L181.4,547.4 L179.1,548.1 L180.1,551 L177.8,551.7 L178.9,555.2 L176.6,556 L173,544.4 L170.7,545.1 L168.2,537.1 L166,537.8 L163.9,531.1 L161.7,531.8 L168.4,553.5 L166.1,554.2 L170.4,568.8 L168.1,569.5 L162.8,551.5 L160.5,552.2 L162.7,559.5 L160.4,560.2 L159.4,556.9 L157.1,557.6 L157.2,557.8 L154.9,558.4 L153.4,553 L151.1,553.6 L147.5,540.5 L145.3,541.1 L148.5,553.1 L146.2,553.8 L146.2,553.5 L143.9,554.1 L143.9,554 L141.6,554.6 L141.8,555.7 L139.6,556.2 L140.2,558.6 L137.9,559.2 L132,535.6 L129.8,536.1 L133.2,550.1 L130.9,550.6 L130.5,549 L128.3,549.5 L134.6,576.4 L132.2,577 L128.9,562.5 L126.5,563 L125.7,559.1 L123.4,559.6 L123,558 L120.7,558.5 L119.6,553.4 L117.3,553.9 L120,566.5 L117.7,567 L116,559.1 L113.7,559.6 L110.8,545.3 L108.6,545.7 L113.2,569.2 L110.9,569.7 L110,565.1 L107.7,565.5 L103.8,545.5 L101.6,545.9 L101,542.5 L98.7,542.9 L100.2,551.1 L97.9,551.5 L103.5,583 L101.1,583.4 L97.6,563.2 L95.3,563.6 L96.5,570.8 L94.2,571.2 L90.9,551.3 L88.6,551.7 L89.7,558.4 L87.4,558.8 L86.1,550.1 L83.8,550.5 L83.4,548 L81.2,548.4 L79.6,537.7 L77.4,538 L77.8,541.1 L75.6,541.4 L75.9,543.5 L73.6,543.8 L76.2,563.1 L73.9,563.4 L72.6,553.6 L70.3,553.8 L71.1,559.7 L68.8,560 L70.3,572.4 L67.9,572.7 L68.6,578 L66.2,578.3 L63.1,551.4 L60.8,551.6 L62.1,563 L59.8,563.2 L60.1,566.4 L57.8,566.7 L57.7,565.6 L55.3,565.8 L54.3,555.1 L52,555.3 L53.5,571.4 L51.2,571.6 L51.5,575.7 L49.2,575.9 L48.4,566.8 L46,567 L47.5,584.6 L45.1,584.8 L45.5,590.1 L43,590.3 L42.3,580.2 L39.9,580.4 L39.6,576.4 L37.3,576.6 L37.1,573.9 L34.7,574 L34.9,576.2 L32.5,576.4 L32.5,577.5 L30.2,577.7 L29.9,573.4 L27.6,573.5 L28,581.3 L25.6,581.5 L24.9,566.3 L22.6,566.4 L22.9,575.1 L20.5,575.2 L20.2,566.4 L17.9,566.5 L17.7,562 L15.4,562.1 L15.7,570.3 L13.3,570.4 L13.2,567.2 L10.9,567.2 L11.2,583.8 L8.8,583.8 L8.8,582.1 L6.4,582.1 L6.3,573.5 L3.9,573.5 L3.9,562.6 L1.5,562.6 L1.6,569.9 L-0.8,569.9 L-0.8,551.3 L-3,551.3 L-3,552.7 L-5.3,552.7 L-5.5,569.6 L-7.8,569.5 L-7.9,571.9 L-10.2,571.8 L-10.4,582.3 L-12.8,582.3 L-12.4,562 L-14.7,561.9 L-14.5,555.3 L-16.8,555.2 L-16.9,558.5 L-19.2,558.4 L-19,554 L-21.3,553.9 L-22,570.4 L-24.3,570.3 L-23.9,560.7 L-26.2,560.6 L-26.1,558.6 L-28.4,558.5 L-28.9,568.4 L-31.3,568.3 L-30.6,556.8 L-32.9,556.7 L-32.9,556.3 L-35.2,556.1 L-36,568.4 L-38.3,568.3 L-38.1,564.9 L-40.4,564.8 L-41,572.4 L-43.3,572.3 L-43.7,577.9 L-46.1,577.7 L-45.8,574.2 L-48.2,574 L-48.3,574.9 L-50.7,574.7 L-49.5,561.7 L-51.8,561.5 L-49.5,536.4 L-51.7,536.2 L-55.1,571.5 L-57.5,571.3 L-57.4,570.6 L-59.8,570.4 L-60.7,578.9 L-63,578.7 L-61.5,564.5 L-63.8,564.2 L-68.6,606.1 L-71.1,605.8 L-67.7,577.2 L-70.1,576.9 L-68.6,564.9 L-70.9,564.6 L-70.8,563.3 L-73.1,563.1 L-73,562.2 L-75.3,561.9 L-77.4,577.5 L-79.8,577.1 L-80.7,584 L-83.1,583.7 L-81.4,571.8 L-83.8,571.4 L-82.8,564.9 L-85.2,564.5 L-84.9,562.8 L-87.2,562.4 L-85.8,553.4 L-88.1,553 L-91.2,572.8 L-93.6,572.4 L-93.3,570.8 L-95.7,570.4 L-95.7,570.4 L-98,570 L-98.5,572.7 L-100.8,572.3 L-105.9,600.7 L-108.3,600.3 L-101.7,563.5 L-104,563.1 L-105.3,569.9 L-107.6,569.4 L-105.3,556.9 L-107.5,556.5 L-110.3,570.5 L-112.6,570 L-110.4,558.7 L-112.7,558.3 L-115.4,572 L-117.8,571.5 L-118.2,573.5 L-120.6,573 L-118.3,562 L-120.6,561.5 L-122.4,569.9 L-124.7,569.4 L-130.5,595.9 L-133,595.3 L-121.8,545.4 L-124.1,544.9 L-126.1,554 L-128.4,553.5 L-126.5,545.2 L-128.7,544.7 L-132.2,559.5 L-134.5,558.9 L-134.3,558 L-136.6,557.4 L-129,526.3 L-131.2,525.8 L-138.3,554.3 L-140.6,553.7 L-136.5,537.8 L-138.7,537.3 L-140.1,542.5 L-142.3,541.9 L-144,548.1 L-146.2,547.5 L-146.1,547.2 L-148.4,546.6 L-147.8,544.5 L-150.1,543.9 L-141.9,514.5 L-144.1,513.9 L-154.8,552 L-157,551.4 L-153.1,537.5 L-155.3,536.9 L-154.5,534.1 L-156.7,533.5 L-164.4,559.7 L-166.7,559.1 L-165.3,554.2 L-167.5,553.5 L-168.6,557.2 L-170.9,556.5 L-167.7,545.9 L-169.9,545.2 L-172.6,553.7 L-174.9,553 L-169.5,535.9 L-171.7,535.2 L-176.6,550.6 L-178.9,549.9 L-179.9,553 L-182.2,552.2 L-191.1,579.3 L-193.5,578.5 L-190.5,569.7 L-192.9,568.9 L-192.7,568.3 L-195,567.5 L-189.4,551.1 L-191.6,550.3 L-200.6,576.1 L-203,575.2 L-190.3,539.2 L-192.5,538.4 L-189.8,530.9 L-192,530.1 L-195,538.3 L-197.2,537.5 L-209.5,571.1 L-211.8,570.2 L-202.9,546.2 L-205.2,545.3 L-203.1,539.9 L-205.3,539 L-207.4,544.5 L-209.7,543.7 L-209.1,542.2 L-211.3,541.4 L-215.5,551.9 L-217.7,551 L-214.1,541.8 L-216.3,540.9 L-218.4,546.1 L-220.7,545.2 L-208.1,514.1 L-210.2,513.3 L-205.9,502.7 L-207.9,501.8 L-211.7,511 L-213.8,510.1 L-208.7,497.8 L-210.7,496.9 L-210,495.2 L-212,494.4 L-214.1,499.1 L-216.1,498.2 L-217.2,500.7 L-219.2,499.8 L-225.7,514.5 L-227.8,513.5 L-219.5,494.8 L-221.5,493.9 L-220.8,492.3 L-222.9,491.4 L-219.8,484.8 L-221.8,483.9 L-222.2,484.7 L-224.2,483.8 L-229.5,495.1 L-231.5,494.1 L-226.2,482.8 L-228.1,481.8 L-226.7,478.7 L-228.6,477.7 L-236.2,493.6 L-238.3,492.6 L-238.5,493.2 L-240.5,492.2 L-235.1,481 L-237.1,480 L-238.1,482.1 L-240.1,481.1 L-241.9,484.7 L-243.9,483.7 L-242.8,481.6 L-244.8,480.6 L-242.5,476.1 L-244.4,475 L-245.4,477 L-247.4,476 L-243.5,468.6 L-245.5,467.6 L-246,468.7 L-248,467.6 L-251.6,474.6 L-253.6,473.5 L-252.3,471 L-254.2,470 L-257.8,476.6 L-259.7,475.5 L-249.2,456.3 L-251.1,455.3 L-253.6,459.9 L-255.5,458.8 L-263.2,472.7 L-265.2,471.6 L-262.6,467 L-264.5,465.9 L-254,447.3 L-255.8,446.3 L-266.5,464.9 L-268.4,463.8 L-265.8,459.2 L-267.6,458.1 L-275.2,471.1 L-277.2,470 L-276.1,468.2 L-278.1,467 L-273,458.5 L-274.9,457.4 L-281,467.6 L-282.9,466.5 L-276.7,456.2 L-278.6,455.1 L-278.3,454.6 L-280.2,453.4 L-284.5,460.4 L-286.4,459.2 L-278.4,446.4 L-280.2,445.2 L-278.2,442.1 L-280,440.9 L-283.3,446 L-285.1,444.8 L-285.5,445.5 L-287.4,444.3 L-279.8,432.6 L-281.5,431.4 L-280.7,430.1 L-282.4,428.9 L-282.4,428.8 L-284.1,427.6 L-282.2,424.7 L-283.9,423.6 L-296.4,442.2 L-298.3,441 L-295,436.1 L-296.8,434.9 L-299.1,438.3 L-300.9,437.1 L-304.4,442.1 L-306.2,440.9 L-294,423.3 L-295.7,422.1 L-302.1,431.2 L-303.9,429.9 L-294.6,416.8 L-296.3,415.6 L-300.8,421.9 L-302.6,420.7 L-296.6,412.4 L-298.3,411.2 L-313.7,432.3 L-315.4,431 L-310.7,424.6 L-312.4,423.3 L-335.5,454.4 L-337.3,453.1 L-306.1,411.1 L-307.8,409.8 L-312.7,416.4 L-314.4,415.1 L-306.7,404.9 L-308.4,403.7 L-308.4,403.7 L-310.1,402.4 L-316.8,411.2 L-318.5,409.9 L-320.1,411.9 L-321.8,410.6 L-314.1,400.8 L-315.7,399.5 L-323,408.7 L-324.7,407.4 L-318.9,400.1 L-320.6,398.8 L-322.8,401.5 L-324.4,400.2 L-327.2,403.6 L-328.8,402.2 L-330.1,403.7 L-331.7,402.4 L-349,423.3 L-350.7,421.9 L-332.9,400.5 L-334.6,399.1 L-334.6,399.2 L-336.3,397.8 L-330.7,391.2 L-332.3,389.8 L-334.1,391.9 L-335.7,390.5 L-335.2,389.9 L-336.8,388.5 L-336,387.7 L-337.6,386.3 L-341.1,390.2 L-342.7,388.8 L-340.8,386.7 L-342.4,385.3 L-343.2,386.1 L-344.8,384.7 L-340,379.4 L-341.5,378 L-359.8,398.2 L-361.5,396.8 L-350,384.2 L-351.6,382.8 L-354.6,386 L-356.2,384.6 L-358.7,387.3 L-360.3,385.8 L-364.6,390.4 L-366.2,388.9 L-358.9,381.1 L-360.5,379.7 L-360.1,379.2 L-361.6,377.8 L-363.8,380 L-365.4,378.5 L-375.1,388.6 L-376.7,387.1 L-367.8,377.9 L-369.3,376.4 L-375.8,382.9 L-377.3,381.4 L-375,379 L-376.5,377.4 L-380.5,381.4 L-382.1,379.9 L-370.4,368.2 L-371.9,366.7 L-371.7,366.5 L-373.2,365 L-372,363.8 L-373.5,362.2 L-372.9,361.7 L-374.4,360.2 L-382.1,367.6 L-383.6,366 L-375,357.7 L-376.5,356.2 L-391.3,370.3 L-392.9,368.7 L-382.6,359 L-384.1,357.4 L-384,357.4 L-385.5,355.8 L-394.2,363.8 L-395.7,362.2 L-393.5,360.2 L-395,358.6 L-401.4,364.5 L-402.9,362.8 L-397.6,357.9 L-399,356.3 L-401.5,358.5 L-403,356.9 L-399.9,354.1 L-401.4,352.5 L-414.2,363.8 L-415.7,362.1 L-402.9,350.9 L-404.3,349.2 L-411.2,355.2 L-412.7,353.5 L-417.3,357.4 L-418.7,355.7 L-414.8,352.4 L-416.3,350.7 L-412.4,347.4 L-413.8,345.7 L-415.2,346.9 L-416.6,345.1 L-416.3,344.8 L-417.7,343.1 L-419,344.2 L-420.4,342.5 L-410.6,334.5 L-412,332.8 L-420,339.3 L-421.4,337.6 L-416.5,333.6 L-417.8,331.9 L-405.8,322.3 L-407.1,320.6 L-416.6,328.1 L-418,326.4 L-434,338.9 L-435.4,337.1 L-419.8,325.1 L-421.2,323.3 L-432.2,331.8 L-433.6,330.1 L-436,331.9 L-437.4,330.1 L-448.6,338.5 L-450,336.7 L-445.5,333.4 L-446.9,331.5 L-453.7,336.6 L-455.1,334.7 L-446.9,328.7 L-448.3,326.9 L-422.5,308 L-423.7,306.3 L-454.5,328.6 L-455.9,326.7 L-448.8,321.6 L-450.1,319.7 L-454.7,323 L-456,321.1 L-454.2,319.9 L-455.5,318 L-445.1,310.7 L-446.4,308.9 L-460.5,318.7 L-461.9,316.8 L-440.4,302.1 L-441.7,300.3 L-437.1,297.2 L-438.3,295.4 L-429.6,289.5 L-430.8,287.7 L-435.7,290.9 L-436.8,289.2 L-444.2,294 L-445.4,292.2 L-450.4,295.5 L-451.6,293.6 L-450.1,292.6 L-451.3,290.8 L-448.7,289.1 L-449.9,287.3 L-467.5,298.5 L-468.7,296.5 L-465,294.2 L-466.2,292.3 L-459.2,287.9 L-460.4,286 L-450.2,279.7 L-451.4,277.8 L-459.7,282.9 L-460.9,281 L-451.5,275.3 L-452.6,273.5 L-459.7,277.8 L-460.9,275.9 L-469.1,280.8 L-470.3,278.9 L-470.5,279 L-471.7,277.1 L-494.9,290.7 L-496.1,288.7 L-510.3,296.9 L-511.5,294.8 L-487,280.7 L-488.1,278.7 L-497.5,284.1 L-498.7,282 L-486.7,275.2 L-487.9,273.2 L-481.4,269.6 L-482.5,267.7 L-480.8,266.7 L-481.9,264.7 L-470.2,258.3 L-471.3,256.3 L-484.1,263.3 L-485.2,261.3 L-490.4,264.2 L-491.5,262.1 L-471.9,251.7 L-472.9,249.7 L-475.7,251.2 L-476.8,249.2 L-480,250.9 L-481,249 L-477.6,247.2 L-478.6,245.2 L-485.4,248.7 L-486.4,246.7 L-500.1,253.6 L-501.1,251.6 L-488.8,245.3 L-489.8,243.3 L-477.9,237.4 L-478.8,235.4 L-455.9,224.1 L-456.8,222.3 L-494.1,240.4 L-495.1,238.4 L-495.1,238.4 L-496.1,236.4 L-505.8,241 L-506.8,238.9 L-476.9,224.8 L-477.8,222.8 L-491.8,229.4 L-492.8,227.3 L-498.4,230 L-499.4,227.9 L-493.9,225.4 L-494.8,223.3 L-510.9,230.6 L-511.8,228.5 L-517.5,231.1 L-518.5,228.9 L-491.6,217 L-492.4,215 L-502.2,219.2 L-503.1,217.2 L-505.3,218.1 L-506.2,216 L-514.7,219.7 L-515.6,217.5 L-528.9,223.2 L-529.8,221 L-511,213.1 L-511.9,211 L-495.6,204.3 L-496.5,202.3 L-489.9,199.6 L-490.8,197.6 L-510.5,205.6 L-511.3,203.5 L-512.5,203.9 L-513.3,201.8 L-518.1,203.7 L-518.9,201.5 L-501.7,194.8 L-502.5,192.8 L-515.9,197.9 L-516.7,195.8 L-521.8,197.7 L-522.6,195.6 L-527.1,197.2 L-527.9,195.1 L-524.7,193.9 L-525.5,191.8 L-522.2,190.5 L-523,188.4 L-521.3,187.8 L-522.1,185.6 L-513.2,182.5 L-513.9,180.3 L-516.4,181.2 L-517.2,179.1 L-512.6,177.5 L-513.4,175.4 L-516.8,176.6 L-517.5,174.5 L-518.1,174.6 L-518.8,172.5 L-519.4,172.7 L-520.1,170.6 L-505,165.6 L-505.7,163.5 L-519.4,168 L-520.1,165.8 L-519.3,165.6 L-520,163.4 L-525.3,165.1 L-526,163 L-524.4,162.4 L-525,160.3 L-553.7,169 L-554.4,166.7 L-531.8,159.9 L-532.4,157.8 L-530.7,157.3 L-531.4,155.1 L-538.1,157 L-538.7,154.8 L-533.1,153.2 L-533.7,151 L-544.4,154 L-545,151.8 L-524,145.9 L-524.6,143.7 L-532.5,145.9 L-533.1,143.7 L-527.2,142.1 L-527.8,140 L-540.6,143.3 L-541.2,141.1 L-526.3,137.2 L-526.9,135.1 L-551.1,141.3 L-551.7,139 L-544,137.1 L-544.6,134.8 L-534.9,132.4 L-535.4,130.2 L-553.7,134.7 L-554.3,132.4 L-547.9,130.9 L-548.4,128.6 L-537.2,126 L-537.7,123.8 L-529.8,122 L-530.3,119.8 L-546,123.3 L-546.5,121.1 L-522.2,115.7 L-522.7,113.5 L-534.4,116.1 L-534.9,113.9 L-543.2,115.6 L-543.6,113.4 L-537.3,112.1 L-537.7,109.9 L-531.4,108.6 L-531.8,106.4 L-534.7,106.9 L-535.1,104.7 L-543.6,106.4 L-544,104.2 L-537.2,102.8 L-537.6,100.6 L-533.5,99.9 L-533.9,97.7 L-528.9,96.7 L-529.2,94.6 L-543.2,97.1 L-543.6,94.8 L-540.9,94.4 L-541.3,92.1 L-541.3,92.1 L-541.7,89.9 L-538.5,89.4 L-538.9,87.1 L-539.4,87.2 L-539.7,85 L-433.1,68.2 Z" fill="#b9b9b9"/>
<circle r="439.4" fill="#b9b9b9"/>
<circle r="588" fill="none" stroke="#b5b5b5" stroke-width="1.4" stroke-dasharray="1.4 8.6"/>
<circle r="537" fill="none" stroke="#555" stroke-width="1.4" stroke-dasharray="1.4 2.2"/>
<circle r="488.7" fill="none" stroke="#777" stroke-width="1.4" stroke-dasharray="1.4 8.6"/>
<path d="M-613.7,96.6 L-614.7,90.2 L-615.6,83.8 L-616.4,77.3 L-617.2,70.9 L-617.9,64.4 L-618.5,57.9 L-619.1,51.4 L-619.6,45 L-620.1,38.5 L-620.4,32 L-620.7,25.5 L-621,19 L-625,19.1 L-617.3,-14.2 L-609.5,18.6 L-613.5,18.8 L-613.2,25.2 L-612.9,31.6 L-612.6,38 L-612.1,44.4 L-611.6,50.8 L-611.1,57.2 L-610.4,63.6 L-609.7,70 L-609,76.4 L-608.1,82.8 L-607.2,89.1 L-606.3,95.5 Z" fill="#b3b3b3"/>
<path d="M-433.1,68.2 A438.4,438.4 0 1 1 432.1,74 L363.5,62.3 A368.8,368.8 0 1 0 -364.3,57.4 Z" fill="#00a19a"/>
<path d="M432.1,74 A438.4,438.4 0 0 1 160.5,408 L135,343.2 A368.8,368.8 0 0 0 363.5,62.3 Z" fill="#263946"/>
<path d="M160.5,408 A438.4,438.4 0 0 1 -166,405.7 L-139.7,341.3 A368.8,368.8 0 0 0 135,343.2 Z" fill="#66b7e2"/>
<path d="M-166,405.7 A438.4,438.4 0 0 1 -433.1,68.2 L-364.3,57.4 A368.8,368.8 0 0 0 -139.7,341.3 Z" fill="#263946"/>
<circle r="369.8" fill="#fdeaea"/>
<g stroke="#000" stroke-width="2.7" stroke-linejoin="miter">
<path d="M-835.2,131.5 A845.5,845.5 0 0 1 -835.6,129.1 L-883.7,136.6 A894.2,894.2 0 0 0 -883.3,139.1 Z" fill="#1c2f86"/>
<path d="M-837.5,115.7 A845.5,845.5 0 0 1 -841.8,78.7 L-890.3,83.2 A894.2,894.2 0 0 0 -885.8,122.3 Z" fill="#0c8c39"/>
<path d="M-842.5,70.7 A845.5,845.5 0 0 1 -845.3,-18.1 L-894,-19.1 A894.2,894.2 0 0 0 -891.1,74.8 Z" fill="#1c2f86"/>
<path d="M-843.4,59.6 A845.5,845.5 0 0 1 -845.5,8.4 L-894.2,8.9 A894.2,894.2 0 0 0 -892,63 Z" fill="#f96b23"/>
<path d="M-844.2,-46.2 A845.5,845.5 0 0 1 -841.2,-85.5 L-889.6,-90.4 A894.2,894.2 0 0 0 -892.9,-48.9 Z" fill="#e8b57e"/>
<path d="M-837,-119.4 A845.5,845.5 0 0 1 -836.7,-121.8 L-884.9,-128.8 A894.2,894.2 0 0 0 -885.2,-126.2 Z" fill="#1c2f86"/>
<path d="M-834.5,-136.2 A845.5,845.5 0 0 1 -833.4,-142.4 L-786.2,-134.4 A797.6,797.6 0 0 0 -787.2,-128.5 Z" fill="#0c8c39"/>
<path d="M-831.3,-154.1 A845.5,845.5 0 0 1 -830.6,-157.8 L-783.6,-148.9 A797.6,797.6 0 0 0 -784.2,-145.4 Z" fill="#0c8c39"/>
<path d="M-829.5,-163.7 A845.5,845.5 0 0 1 -828.9,-166.7 L-876.6,-176.3 A894.2,894.2 0 0 0 -877.3,-173.1 Z" fill="#1c2f86"/>
<path d="M-823.4,-191.9 A845.5,845.5 0 0 1 -822.8,-194.6 L-776.2,-183.6 A797.6,797.6 0 0 0 -776.8,-181 Z" fill="#1c2f86"/>
<path d="M-815.5,-223.3 A845.5,845.5 0 0 1 -814.6,-226.3 L-768.5,-213.5 A797.6,797.6 0 0 0 -769.3,-210.7 Z" fill="#739d33"/>
<path d="M-809.8,-243.1 A845.5,845.5 0 0 1 -808.8,-246.4 L-855.4,-260.6 A894.2,894.2 0 0 0 -856.4,-257.1 Z" fill="#0c8c39"/>
<path d="M-801.8,-268.3 A845.5,845.5 0 0 1 -800.9,-270.9 L-847,-286.6 A894.2,894.2 0 0 0 -848,-283.8 Z" fill="#1c2f86"/>
<path d="M-799.7,-274.6 A845.5,845.5 0 0 1 -798.8,-277.2 L-844.8,-293.2 A894.2,894.2 0 0 0 -845.7,-290.4 Z" fill="#1c2f86"/>
<path d="M-797.7,-280.2 A845.5,845.5 0 0 1 -796.8,-282.8 L-842.7,-299.1 A894.2,894.2 0 0 0 -843.7,-296.3 Z" fill="#1c2f86"/>
<path d="M-785,-314.1 A845.5,845.5 0 0 1 -736.6,-415.2 L-694.8,-391.6 A797.6,797.6 0 0 0 -740.5,-296.3 Z" fill="#c92a2a"/>
<path d="M-736.6,-415.2 A845.5,845.5 0 0 1 -682.2,-499.4 L-643.6,-471.1 A797.6,797.6 0 0 0 -694.8,-391.6 Z" fill="#c92a2a"/>
<path d="M-680.4,-501.9 A845.5,845.5 0 0 1 -587.6,-608 L-554.3,-573.5 A797.6,797.6 0 0 0 -641.8,-473.5 Z" fill="#c92a2a"/>
<path d="M-582.3,-613 A845.5,845.5 0 0 1 -563.9,-630 L-531.9,-594.3 A797.6,797.6 0 0 0 -549.3,-578.3 Z" fill="#e8b57e"/>
<path d="M-557.3,-635.8 A845.5,845.5 0 0 1 -536.9,-653.2 L-506.5,-616.2 A797.6,797.6 0 0 0 -525.8,-599.8 Z" fill="#9abf2e"/>
<path d="M-506.5,-677 A845.5,845.5 0 0 1 -498.3,-683 L-470.1,-644.3 A797.6,797.6 0 0 0 -477.8,-638.7 Z" fill="#9abf2e"/>
<path d="M-487.6,-690.7 A845.5,845.5 0 0 1 -453.2,-713.8 L-427.5,-673.4 A797.6,797.6 0 0 0 -460,-651.6 Z" fill="#9abf2e"/>
<path d="M-453.2,-713.8 A845.5,845.5 0 0 1 -404.2,-742.6 L-381.3,-700.5 A797.6,797.6 0 0 0 -427.5,-673.4 Z" fill="#9abf2e"/>
<path d="M-400.9,-744.4 A845.5,845.5 0 0 1 -398.4,-745.7 L-421.4,-788.7 A894.2,894.2 0 0 0 -424,-787.3 Z" fill="#1c2f86"/>
<path d="M-391.3,-749.5 A845.5,845.5 0 0 1 -365.8,-762.3 L-386.9,-806.2 A894.2,894.2 0 0 0 -413.9,-792.7 Z" fill="#1c2f86"/>
<path d="M-361.1,-764.5 A845.5,845.5 0 0 1 -358.6,-765.7 L-338.2,-722.3 A797.6,797.6 0 0 0 -340.6,-721.2 Z" fill="#1c2f86"/>
<path d="M-320,-782.6 A845.5,845.5 0 0 1 -289.4,-794.4 L-273,-749.4 A797.6,797.6 0 0 0 -301.8,-738.3 Z" fill="#0c8c39"/>
<path d="M-289.4,-794.4 A845.5,845.5 0 0 1 -240.5,-810.6 L-226.8,-764.7 A797.6,797.6 0 0 0 -273,-749.4 Z" fill="#0c8c39"/>
<path d="M-233.4,-812.6 A845.5,845.5 0 0 1 -230.8,-813.4 L-244.1,-860.2 A894.2,894.2 0 0 0 -246.9,-859.4 Z" fill="#1c2f86"/>
<path d="M-218.7,-816.7 A845.5,845.5 0 0 1 -211.6,-818.6 L-199.6,-772.2 A797.6,797.6 0 0 0 -206.3,-770.5 Z" fill="#0c8c39"/>
<path d="M-201.1,-821.2 A845.5,845.5 0 0 1 -198.4,-821.9 L-187.2,-775.3 A797.6,797.6 0 0 0 -189.7,-774.7 Z" fill="#1c2f86"/>
<path d="M-196.1,-822.5 A845.5,845.5 0 0 1 -193.3,-823.1 L-204.5,-870.5 A894.2,894.2 0 0 0 -207.3,-869.8 Z" fill="#1c2f86"/>
<path d="M-186.2,-824.7 A845.5,845.5 0 0 1 -174.6,-827.3 L-184.7,-874.9 A894.2,894.2 0 0 0 -196.9,-872.2 Z" fill="#e8b57e"/>
<path d="M-171.2,-828 A845.5,845.5 0 0 1 -93.9,-840.3 L-99.3,-888.7 A894.2,894.2 0 0 0 -181.1,-875.7 Z" fill="#07632f"/>
<path d="M-93.9,-840.3 A845.5,845.5 0 0 1 -15.7,-845.4 L-16.6,-894 A894.2,894.2 0 0 0 -99.3,-888.7 Z" fill="#07632f"/>
<path d="M8.4,-845.5 A845.5,845.5 0 0 1 77.9,-841.9 L82.4,-890.4 A894.2,894.2 0 0 0 8.8,-894.2 Z" fill="#43bfad"/>
<path d="M108,-838.6 A845.5,845.5 0 0 1 110.8,-838.2 L104.5,-790.7 A797.6,797.6 0 0 0 101.9,-791.1 Z" fill="#1c2f86"/>
<path d="M121.8,-836.7 A845.5,845.5 0 0 1 143.5,-833.2 L151.8,-881.2 A894.2,894.2 0 0 0 128.8,-884.9 Z" fill="#e8b57e"/>
<path d="M153.8,-831.4 A845.5,845.5 0 0 1 156.5,-830.9 L165.5,-878.7 A894.2,894.2 0 0 0 162.6,-879.3 Z" fill="#1c2f86"/>
<path d="M176.3,-826.9 A845.5,845.5 0 0 1 194,-822.9 L183,-776.3 A797.6,797.6 0 0 0 166.3,-780.1 Z" fill="#1c2f86"/>
<path d="M203.8,-820.6 A845.5,845.5 0 0 1 206.5,-819.9 L194.8,-773.4 A797.6,797.6 0 0 0 192.3,-774.1 Z" fill="#1c2f86"/>
<path d="M228.7,-814 A845.5,845.5 0 0 1 243.8,-809.6 L257.8,-856.2 A894.2,894.2 0 0 0 241.9,-860.9 Z" fill="#fdee47"/>
<path d="M246.8,-808.7 A845.5,845.5 0 0 1 270,-801.2 L285.6,-847.4 A894.2,894.2 0 0 0 261,-855.3 Z" fill="#fdee47"/>
<path d="M270,-801.2 A845.5,845.5 0 0 1 284.2,-796.3 L300.5,-842.2 A894.2,894.2 0 0 0 285.6,-847.4 Z" fill="#fdee47"/>
<path d="M317.4,-783.7 A845.5,845.5 0 0 1 339.5,-774.3 L359.1,-818.9 A894.2,894.2 0 0 0 335.6,-828.8 Z" fill="#1c2f86"/>
<path d="M344,-772.4 A845.5,845.5 0 0 1 346.5,-771.2 L326.9,-727.5 A797.6,797.6 0 0 0 324.5,-728.6 Z" fill="#1c2f86"/>
<path d="M354.8,-767.5 A845.5,845.5 0 0 1 365.2,-762.6 L386.2,-806.5 A894.2,894.2 0 0 0 375.2,-811.7 Z" fill="#9abf2e"/>
<path d="M365.2,-762.6 A845.5,845.5 0 0 1 413.1,-737.7 L436.9,-780.2 A894.2,894.2 0 0 0 386.2,-806.5 Z" fill="#9abf2e"/>
<path d="M436.9,-723.9 A845.5,845.5 0 0 1 479.3,-696.5 L452.1,-657.1 A797.6,797.6 0 0 0 412.1,-682.9 Z" fill="#0ea242"/>
<path d="M493.5,-686.5 A845.5,845.5 0 0 1 535.8,-654.1 L505.4,-617 A797.6,797.6 0 0 0 465.6,-647.6 Z" fill="#808080"/>
<path d="M555.2,-637.6 A845.5,845.5 0 0 1 557.9,-635.4 L526.2,-599.4 A797.6,797.6 0 0 0 523.8,-601.5 Z" fill="#07632f"/>
<path d="M569.5,-624.9 A845.5,845.5 0 0 1 583.5,-611.8 L550.5,-577.2 A797.6,797.6 0 0 0 537.3,-589.5 Z" fill="#43bfad"/>
<path d="M602.9,-592.8 A845.5,845.5 0 0 1 619.7,-575.1 L584.6,-542.6 A797.6,797.6 0 0 0 568.7,-559.2 Z" fill="#808080"/>
<path d="M624.9,-569.5 A845.5,845.5 0 0 1 647.6,-543.5 L610.9,-512.8 A797.6,797.6 0 0 0 589.5,-537.2 Z" fill="#739d33"/>
<path d="M663.5,-524.1 A845.5,845.5 0 0 1 666,-520.8 L704.4,-550.8 A894.2,894.2 0 0 0 701.7,-554.3 Z" fill="#0c8c39"/>
<path d="M667.1,-519.4 A845.5,845.5 0 0 1 669.3,-516.7 L707.8,-546.5 A894.2,894.2 0 0 0 705.5,-549.4 Z" fill="#0c8c39"/>
<path d="M670.3,-515.3 A845.5,845.5 0 0 1 672.4,-512.5 L711.2,-542.1 A894.2,894.2 0 0 0 708.9,-545 Z" fill="#0c8c39"/>
<path d="M673.5,-511.2 A845.5,845.5 0 0 1 678.7,-504.2 L717.8,-533.2 A894.2,894.2 0 0 0 712.3,-540.6 Z" fill="#0c8c39"/>
<path d="M705.3,-466.3 A845.5,845.5 0 0 1 707.2,-463.4 L667.2,-437.1 A797.6,797.6 0 0 0 665.4,-439.9 Z" fill="#739d33"/>
<path d="M711.2,-457.2 A845.5,845.5 0 0 1 713.1,-454.3 L672.7,-428.6 A797.6,797.6 0 0 0 670.9,-431.3 Z" fill="#739d33"/>
<path d="M713.1,-454.3 A845.5,845.5 0 0 1 714.6,-451.9 L755.7,-478 A894.2,894.2 0 0 0 754.2,-480.5 Z" fill="#1c2f86"/>
<path d="M717.5,-447.2 A845.5,845.5 0 0 1 719,-444.8 L760.4,-470.5 A894.2,894.2 0 0 0 758.9,-473 Z" fill="#1c2f86"/>
<path d="M726.6,-432.3 A845.5,845.5 0 0 1 728.7,-428.7 L687.4,-404.5 A797.6,797.6 0 0 0 685.4,-407.8 Z" fill="#07632f"/>
<path d="M735.9,-416.4 A845.5,845.5 0 0 1 739.3,-410.3 L697.4,-387.1 A797.6,797.6 0 0 0 694.2,-392.8 Z" fill="#a87c4a"/>
<path d="M743.6,-402.4 A845.5,845.5 0 0 1 748.4,-393.4 L706,-371.2 A797.6,797.6 0 0 0 701.5,-379.6 Z" fill="#e8b57e"/>
<path d="M751.9,-386.6 A845.5,845.5 0 0 1 757.7,-375.1 L801.4,-396.7 A894.2,894.2 0 0 0 795.2,-408.9 Z" fill="#a87c4a"/>
<path d="M769.5,-350.3 A845.5,845.5 0 0 1 771.2,-346.5 L815.7,-366.4 A894.2,894.2 0 0 0 813.9,-370.5 Z" fill="#e8b57e"/>
<path d="M773.4,-341.7 A845.5,845.5 0 0 1 798.9,-276.9 L844.9,-292.8 A894.2,894.2 0 0 0 817.9,-361.4 Z" fill="#f96b23"/>
<path d="M803.5,-263 A845.5,845.5 0 0 1 818.7,-211.2 L772.3,-199.2 A797.6,797.6 0 0 0 758,-248.1 Z" fill="#0c8c39"/>
<path d="M820.2,-205.1 A845.5,845.5 0 0 1 821.2,-201.4 L774.6,-190 A797.6,797.6 0 0 0 773.8,-193.5 Z" fill="#0c8c39"/>
<path d="M822,-198 A845.5,845.5 0 0 1 822.9,-194 L870.4,-205.1 A894.2,894.2 0 0 0 869.3,-209.4 Z" fill="#0c8c39"/>
<path d="M823.6,-191.3 A845.5,845.5 0 0 1 825.3,-183.8 L778.5,-173.4 A797.6,797.6 0 0 0 776.9,-180.4 Z" fill="#0c8c39"/>
<path d="M826.2,-179.7 A845.5,845.5 0 0 1 835.2,-131.4 L787.9,-124 A797.6,797.6 0 0 0 779.4,-169.5 Z" fill="#739d33"/>
<path d="M836.5,-123.2 A845.5,845.5 0 0 1 841.3,-84.1 L793.6,-79.3 A797.6,797.6 0 0 0 789.1,-116.2 Z" fill="#739d33"/>
<path d="M842,-76.5 A845.5,845.5 0 0 1 844.5,-41.7 L893.1,-44.1 A894.2,894.2 0 0 0 890.5,-80.9 Z" fill="#c92a2a"/>
<path d="M844.6,-37.9 A845.5,845.5 0 0 1 845.1,-24.7 L893.8,-26.1 A894.2,894.2 0 0 0 893.3,-40.1 Z" fill="#e8b57e"/>
<path d="M845.2,-20.9 A845.5,845.5 0 0 1 845.3,-16.7 L894,-17.6 A894.2,894.2 0 0 0 893.9,-22.1 Z" fill="#a87c4a"/>
<path d="M845.4,-12.5 A845.5,845.5 0 0 1 845.5,-5.2 L894.2,-5.5 A894.2,894.2 0 0 0 894.1,-13.2 Z" fill="#f96b23"/>
<path d="M845.5,-1 A845.5,845.5 0 0 1 845.4,13.6 L894.1,14.4 A894.2,894.2 0 0 0 894.2,-1.1 Z" fill="#e8b57e"/>
<path d="M845.2,20.6 A845.5,845.5 0 0 1 844.9,33.1 L893.5,35 A894.2,894.2 0 0 0 893.9,21.8 Z" fill="#a87c4a"/>
<path d="M844.7,37 A845.5,845.5 0 0 1 840.9,88.4 L889.3,93.4 A894.2,894.2 0 0 0 893.3,39.1 Z" fill="#a87c4a"/>
<path d="M840.4,92.5 A845.5,845.5 0 0 1 837.8,113.9 L886,120.5 A894.2,894.2 0 0 0 888.8,97.8 Z" fill="#e8b57e"/>
<path d="M837.8,113.9 A845.5,845.5 0 0 1 835.4,130.1 L883.5,137.6 A894.2,894.2 0 0 0 886,120.5 Z" fill="#a87c4a"/>
<path d="M835.2,131.9 A845.5,845.5 0 0 1 833.6,141.5 L881.6,149.6 A894.2,894.2 0 0 0 883.3,139.5 Z" fill="#e8b57e"/>
<path d="M833.3,143.2 A845.5,845.5 0 0 1 823,193.7 L870.4,204.9 A894.2,894.2 0 0 0 881.3,151.5 Z" fill="#a87c4a"/>
<path d="M823,193.7 A845.5,845.5 0 0 1 820.2,205.2 L867.5,217 A894.2,894.2 0 0 0 870.4,204.9 Z" fill="#a87c4a"/>
<path d="M818.6,211.6 A845.5,845.5 0 0 1 817.9,214.3 L865,226.7 A894.2,894.2 0 0 0 865.7,223.8 Z" fill="#1c2f86"/>
<path d="M816.7,218.7 A845.5,845.5 0 0 1 724.4,436 L683.4,411.3 A797.6,797.6 0 0 0 770.5,206.3 Z" fill="#43bfad"/>
<path d="M716.4,449.1 A845.5,845.5 0 0 1 714.9,451.4 L756.1,477.4 A894.2,894.2 0 0 0 757.6,474.9 Z" fill="#1c2f86"/>
<path d="M703.3,469.2 A845.5,845.5 0 0 1 659.1,529.6 L697,560.1 A894.2,894.2 0 0 0 743.8,496.3 Z" fill="#fdee47"/>
<path d="M651.8,538.5 A845.5,845.5 0 0 1 641.3,551.1 L678.2,582.8 A894.2,894.2 0 0 0 689.3,569.6 Z" fill="#e8b57e"/>
<path d="M641.3,551.1 A845.5,845.5 0 0 1 625.3,569.1 L661.4,601.8 A894.2,894.2 0 0 0 678.2,582.8 Z" fill="#e8b57e"/>
<path d="M598.4,597.3 A845.5,845.5 0 0 1 595.5,600.2 L629.8,634.8 A894.2,894.2 0 0 0 632.9,631.7 Z" fill="#43bfad"/>
<path d="M577.9,617.2 A845.5,845.5 0 0 1 575.9,619.1 L543.2,584 A797.6,797.6 0 0 0 545.2,582.2 Z" fill="#1c2f86"/>
<path d="M570.5,624 A845.5,845.5 0 0 1 530.3,658.5 L500.3,621.2 A797.6,797.6 0 0 0 538.2,588.7 Z" fill="#f93627"/>
<path d="M521.9,665.2 A845.5,845.5 0 0 1 500.5,681.4 L472.2,642.8 A797.6,797.6 0 0 0 492.3,627.5 Z" fill="#1c2f86"/>
<path d="M497.7,683.5 A845.5,845.5 0 0 1 471.2,702.1 L444.5,662.3 A797.6,797.6 0 0 0 469.5,644.8 Z" fill="#1c2f86"/>
<path d="M467.4,704.6 A845.5,845.5 0 0 1 382.6,754 L360.9,711.3 A797.6,797.6 0 0 0 440.9,664.7 Z" fill="#f93627"/>
<path d="M379.1,755.7 A845.5,845.5 0 0 1 375.4,757.6 L354.1,714.7 A797.6,797.6 0 0 0 357.7,712.9 Z" fill="#f93627"/>
<path d="M367.3,761.6 A845.5,845.5 0 0 1 363.2,763.5 L342.6,720.3 A797.6,797.6 0 0 0 346.5,718.4 Z" fill="#f93627"/>
<path d="M356.6,766.6 A845.5,845.5 0 0 1 354,767.8 L334,724.3 A797.6,797.6 0 0 0 336.4,723.2 Z" fill="#1c2f86"/>
<path d="M339.1,774.5 A845.5,845.5 0 0 1 336.5,775.6 L355.9,820.3 A894.2,894.2 0 0 0 358.6,819.1 Z" fill="#1c2f86"/>
<path d="M325.7,780.3 A845.5,845.5 0 0 1 312.7,785.5 L295,741 A797.6,797.6 0 0 0 307.2,736.1 Z" fill="#43bfad"/>
<path d="M310.5,786.4 A845.5,845.5 0 0 1 236,811.9 L249.6,858.7 A894.2,894.2 0 0 0 328.4,831.7 Z" fill="#fdee47"/>
<path d="M202,821 A845.5,845.5 0 0 1 194.6,822.8 L183.6,776.2 A797.6,797.6 0 0 0 190.6,774.5 Z" fill="#a87c4a"/>
<path d="M166.4,829 A845.5,845.5 0 0 1 163.6,829.5 L154.4,782.5 A797.6,797.6 0 0 0 156.9,782 Z" fill="#1c2f86"/>
<path d="M159.5,830.3 A845.5,845.5 0 0 1 123.8,836.4 L116.8,789 A797.6,797.6 0 0 0 150.5,783.3 Z" fill="#808080"/>
<path d="M115.9,837.5 A845.5,845.5 0 0 1 62.2,843.2 L65.8,891.8 A894.2,894.2 0 0 0 122.6,885.8 Z" fill="#fdee47"/>
<path d="M58.7,843.5 A845.5,845.5 0 0 1 50.7,844 L53.6,892.6 A894.2,894.2 0 0 0 62.1,892 Z" fill="#07632f"/>
<path d="M43.1,844.4 A845.5,845.5 0 0 1 31.6,844.9 L33.4,893.6 A894.2,894.2 0 0 0 45.6,893 Z" fill="#fdee47"/>
<path d="M23.6,845.2 A845.5,845.5 0 0 1 4.8,845.5 L5.1,894.2 A894.2,894.2 0 0 0 24.9,893.9 Z" fill="#fdee47"/>
<path d="M-5,845.5 A845.5,845.5 0 0 1 -23.1,845.2 L-24.4,893.9 A894.2,894.2 0 0 0 -5.3,894.2 Z" fill="#fdee47"/>
<path d="M-23.1,845.2 A845.5,845.5 0 0 1 -100.9,839.5 L-106.7,887.8 A894.2,894.2 0 0 0 -24.4,893.9 Z" fill="#fdee47"/>
<path d="M-100.9,839.5 A845.5,845.5 0 0 1 -143.3,833.3 L-151.5,881.3 A894.2,894.2 0 0 0 -106.7,887.8 Z" fill="#fdee47"/>
<path d="M-145,833 A845.5,845.5 0 0 1 -154.9,831.2 L-163.8,879.1 A894.2,894.2 0 0 0 -153.3,881 Z" fill="#e8b57e"/>
<path d="M-168.6,828.5 A845.5,845.5 0 0 1 -335.5,776.1 L-354.8,820.8 A894.2,894.2 0 0 0 -178.3,876.2 Z" fill="#43bfad"/>
<path d="M-347,771 A845.5,845.5 0 0 1 -349.5,769.9 L-329.7,726.3 A797.6,797.6 0 0 0 -327.3,727.3 Z" fill="#1c2f86"/>
<path d="M-364.4,763 A845.5,845.5 0 0 1 -366.9,761.8 L-388,805.6 A894.2,894.2 0 0 0 -385.4,806.9 Z" fill="#1c2f86"/>
<path d="M-373.5,758.6 A845.5,845.5 0 0 1 -377.5,756.5 L-399.3,800.1 A894.2,894.2 0 0 0 -395,802.2 Z" fill="#f93627"/>
<path d="M-385.6,752.5 A845.5,845.5 0 0 1 -389.3,750.5 L-411.7,793.8 A894.2,894.2 0 0 0 -407.8,795.8 Z" fill="#f93627"/>
<path d="M-392.7,748.8 A845.5,845.5 0 0 1 -476.9,698.2 L-504.3,738.4 A894.2,894.2 0 0 0 -415.3,791.9 Z" fill="#f93627"/>
<path d="M-480.6,695.6 A845.5,845.5 0 0 1 -506.9,676.7 L-536.1,715.7 A894.2,894.2 0 0 0 -508.3,735.7 Z" fill="#1c2f86"/>
<path d="M-509.7,674.6 A845.5,845.5 0 0 1 -530.8,658.1 L-561.4,696 A894.2,894.2 0 0 0 -539,713.5 Z" fill="#1c2f86"/>
<path d="M-539.2,651.3 A845.5,845.5 0 0 1 -578.9,616.3 L-612.2,651.8 A894.2,894.2 0 0 0 -570.2,688.8 Z" fill="#f93627"/>
<path d="M-584.2,611.2 A845.5,845.5 0 0 1 -586.2,609.3 L-619.9,644.4 A894.2,894.2 0 0 0 -617.8,646.4 Z" fill="#1c2f86"/>
<path d="M-603.5,592.2 A845.5,845.5 0 0 1 -606.4,589.2 L-572.1,555.8 A797.6,797.6 0 0 0 -569.3,558.6 Z" fill="#43bfad"/>
<path d="M-633,560.6 A845.5,845.5 0 0 1 -648.6,542.3 L-686,573.6 A894.2,894.2 0 0 0 -669.4,592.9 Z" fill="#e8b57e"/>
<path d="M-648.6,542.3 A845.5,845.5 0 0 1 -659,529.7 L-621.7,499.7 A797.6,797.6 0 0 0 -611.9,511.6 Z" fill="#e8b57e"/>
<path d="M-666.2,520.7 A845.5,845.5 0 0 1 -709.6,459.7 L-669.4,433.7 A797.6,797.6 0 0 0 -628.4,491.2 Z" fill="#fdee47"/>
<path d="M-720.9,441.7 A845.5,845.5 0 0 1 -722.4,439.4 L-681.5,414.5 A797.6,797.6 0 0 0 -680.1,416.7 Z" fill="#1c2f86"/>
<path d="M-730.2,426.2 A845.5,845.5 0 0 1 -819.6,207.7 L-866.8,219.6 A894.2,894.2 0 0 0 -772.3,450.7 Z" fill="#43bfad"/>
<path d="M-820.7,203.3 A845.5,845.5 0 0 1 -821.4,200.6 L-774.8,189.2 A797.6,797.6 0 0 0 -774.2,191.8 Z" fill="#1c2f86"/>
<path d="M-822.9,194.1 A845.5,845.5 0 0 1 -825.5,182.6 L-778.8,172.2 A797.6,797.6 0 0 0 -776.3,183.1 Z" fill="#a87c4a"/>
<path d="M-825.5,182.6 A845.5,845.5 0 0 1 -835.1,131.9 L-787.8,124.5 A797.6,797.6 0 0 0 -778.8,172.2 Z" fill="#a87c4a"/>
</g>
<g stroke="#000" stroke-width="5" fill="none">
<path d="M-736.6,-415.2 L-694.8,-391.6"/>
<path d="M-453.2,-713.8 L-427.5,-673.4"/>
<path d="M270,-801.2 L285.6,-847.4"/>
<path d="M-24.5,845.1 L-25.9,893.8"/>
<path d="M641.3,551.1 L678.2,582.8"/>
<path d="M499.1,682.5 L470.8,643.8"/>
<path d="M-508.3,675.7 L-537.5,714.6"/>
<path d="M835.3,130.8 L883.4,138.4"/>
</g>
<path d="M884.1,151.5 A897,897 0 0 1 328.5,834.7 L160.5,408 A438.4,438.4 0 0 0 432.1,74 Z" fill="#3a52b2" fill-opacity="0.15"/>
<path d="M-339.7,830.2 A897,897 0 0 1 -886.1,139.5 L-433.1,68.2 A438.4,438.4 0 0 0 -166,405.7 Z" fill="#3a52b2" fill-opacity="0.15"/>
<path d="M-678.6,106.9 L-677.6,113.4 L-676.4,120 L-675.3,126.5 L-674,133 L-672.7,139.5 L-671.3,146 L-669.9,152.5 L-668.4,159 L-666.8,165.4 L-665.2,171.8 L-663.5,178.3 L-661.7,184.7 L-665.6,185.7 L-648.4,213 L-649.2,181.2 L-653,182.2 L-654.8,175.9 L-656.4,169.6 L-658.1,163.2 L-659.6,156.9 L-661.1,150.5 L-662.5,144.1 L-663.9,137.7 L-665.2,131.3 L-666.4,124.8 L-667.6,118.4 L-668.7,111.9 L-669.7,105.5 Z" fill="#6f7282"/>
<circle r="635.8" fill="none" stroke="#000" stroke-width="3.4"/>
<g stroke="#000" fill="none">
<path d="M-628.1,98.9 L-637.1,100.3 M-635.8,-5.5 L-645,-5.5 M-626.3,-109.7 L-635.3,-111.3 M-599.8,-210.9 L-608.5,-214 M-557.1,-306.5 L-565.1,-310.9 M-499.2,-393.7 L-506.5,-399.4 M-427.9,-470.3 L-434.1,-477.1 M-345,-534.1 L-349.9,-541.8 M-252.7,-583.4 L-256.3,-591.9 M-153.5,-617 L-155.8,-625.9 M-50.2,-633.8 L-51,-643 M54.4,-633.5 L55.2,-642.6 M157.6,-616 L159.9,-624.9 M256.5,-581.8 L260.2,-590.2 M348.5,-531.8 L353.5,-539.5 M431,-467.4 L437.2,-474.2 M501.8,-390.4 L509.1,-396.1 M559.1,-302.8 L567.2,-307.2 M601.2,-207 L609.9,-210 M627,-105.6 L636,-107.1 M635.8,-1.3 L645,-1.3 M627.4,103 L636.5,104.5 M602,204.6 L610.7,207.5 M560.3,300.5 L568.4,304.9 M503.4,388.4 L510.7,394 M432.9,465.7 L439.1,472.4 M350.6,530.4 L355.7,538.1 M258.8,580.7 L262.6,589.1 M160.1,615.3 L162.4,624.2 M57,633.2 L57.8,642.4 M-47.7,634 L-48.4,643.2 M-151.1,617.6 L-153.2,626.5 M-250.3,584.4 L-253.9,592.9 M-342.8,535.5 L-347.8,543.2 M-426,472 L-432.2,478.8 M-497.7,395.7 L-504.9,401.4 M-555.8,308.7 L-563.9,313.2 M-598.9,213.3 L-607.6,216.4 M-625.8,112.2 L-634.9,113.8" stroke-width="2.5"/>
<path d="M-631,78.2 L-636.7,78.9 M-633.2,57.3 L-639,57.9 M-634.8,36.4 L-640.5,36.8 M-635.6,15.5 L-641.4,15.6 M-635.3,-26.4 L-641,-26.6 M-634,-47.3 L-639.8,-47.8 M-632.1,-68.2 L-637.9,-68.8 M-629.5,-89 L-635.3,-89.8 M-622.3,-130.3 L-628,-131.4 M-617.7,-150.7 L-623.3,-152.1 M-612.4,-171 L-618,-172.5 M-606.4,-191.1 L-611.9,-192.8 M-592.5,-230.6 L-597.9,-232.7 M-584.6,-250 L-589.9,-252.3 M-576,-269.1 L-581.3,-271.6 M-566.9,-287.9 L-572,-290.6 M-546.7,-324.7 L-551.7,-327.6 M-535.7,-342.5 L-540.6,-345.6 M-524.1,-360 L-528.9,-363.2 M-511.9,-377 L-516.6,-380.5 M-486,-409.9 L-490.4,-413.7 M-472.2,-425.7 L-476.5,-429.6 M-457.9,-441.1 L-462.1,-445.1 M-443.2,-455.9 L-447.2,-460.1 M-412.2,-484.1 L-415.9,-488.5 M-396,-497.4 L-399.6,-502 M-379.4,-510.2 L-382.8,-514.9 M-362.4,-522.4 L-365.7,-527.2 M-327.2,-545.2 L-330.2,-550.1 M-309,-555.6 L-311.8,-560.7 M-290.6,-565.5 L-293.2,-570.7 M-271.8,-574.8 L-274.2,-580 M-233.3,-591.4 L-235.4,-596.8 M-213.7,-598.8 L-215.6,-604.3 M-193.8,-605.5 L-195.6,-611.1 M-173.8,-611.6 L-175.4,-617.2 M-133.1,-621.7 L-134.3,-627.4 M-112.6,-625.8 L-113.6,-631.5 M-91.9,-629.1 L-92.7,-634.9 M-71.1,-631.8 L-71.7,-637.6 M-29.3,-635.1 L-29.6,-640.9 M-8.4,-635.7 L-8.5,-641.5 M12.6,-635.7 L12.7,-641.5 M33.5,-634.9 L33.8,-640.7 M75.3,-631.3 L75.9,-637.1 M96,-628.5 L96.9,-634.2 M116.7,-625 L117.7,-630.7 M137.2,-620.8 L138.5,-626.5 M177.8,-610.4 L179.4,-616 M197.8,-604.2 L199.6,-609.8 M217.6,-597.4 L219.6,-602.8 M237.2,-589.9 L239.4,-595.3 M275.5,-573 L278,-578.2 M294.3,-563.6 L296.9,-568.7 M312.7,-553.6 L315.5,-558.7 M330.7,-543 L333.8,-548 M365.8,-520 L369.1,-524.8 M382.7,-507.7 L386.2,-512.3 M399.3,-494.8 L402.9,-499.3 M415.3,-481.4 L419.1,-485.8 M446.1,-453 L450.2,-457.1 M460.8,-438 L465,-442 M475,-422.6 L479.4,-426.5 M488.7,-406.7 L493.1,-410.4 M514.4,-373.7 L519.1,-377.1 M526.4,-356.5 L531.3,-359.8 M537.9,-339 L542.8,-342.1 M548.8,-321.1 L553.8,-324 M568.7,-284.2 L573.9,-286.8 M577.8,-265.3 L583.1,-267.7 M586.2,-246.1 L591.6,-248.4 M594,-226.7 L599.4,-228.7 M607.7,-187.1 L613.2,-188.8 M613.5,-166.9 L619.1,-168.5 M618.7,-146.6 L624.3,-148 M623.2,-126.2 L628.8,-127.3 M630.1,-84.8 L635.9,-85.6 M632.6,-64 L638.3,-64.6 M634.3,-43.2 L640.1,-43.5 M635.4,-22.2 L641.2,-22.4 M635.5,19.7 L641.3,19.9 M634.5,40.6 L640.3,41 M632.8,61.5 L638.6,62.1 M630.4,82.3 L636.2,83.1 M623.7,123.7 L629.3,124.8 M619.2,144.1 L624.9,145.5 M614.2,164.5 L619.8,166 M608.4,184.6 L614,186.3 M594.9,224.3 L600.4,226.3 M587.2,243.8 L592.6,246 M578.9,263 L584.1,265.4 M569.9,281.9 L575.1,284.5 M550.1,318.8 L555.1,321.8 M539.3,336.8 L544.2,339.9 M527.9,354.4 L532.7,357.6 M515.9,371.6 L520.6,375 M490.3,404.8 L494.8,408.5 M476.7,420.7 L481.1,424.5 M462.6,436.2 L466.8,440.2 M448,451.2 L452,455.3 M417.3,479.7 L421.1,484.1 M401.2,493.2 L404.9,497.7 M384.8,506.2 L388.3,510.8 M367.9,518.6 L371.2,523.3 M332.9,541.7 L336,546.6 M314.9,552.3 L317.8,557.4 M296.5,562.4 L299.2,567.6 M277.8,571.9 L280.4,577.1 M239.6,588.9 L241.7,594.3 M220,596.5 L222,602 M200.2,603.4 L202.1,608.9 M180.2,609.7 L181.9,615.3 M139.7,620.3 L141,625.9 M119.2,624.5 L120.3,630.2 M98.5,628.1 L99.4,633.8 M77.8,631 L78.5,636.8 M36.1,634.8 L36.4,640.6 M15.1,635.6 L15.3,641.4 M-5.8,635.8 L-5.9,641.6 M-26.8,635.2 L-27,641 M-68.6,632.1 L-69.2,637.9 M-89.4,629.5 L-90.2,635.2 M-110.1,626.2 L-111.1,631.9 M-130.6,622.2 L-131.8,627.9 M-171.3,612.3 L-172.9,617.9 M-191.4,606.3 L-193.2,611.8 M-211.3,599.7 L-213.2,605.1 M-230.9,592.4 L-233,597.8 M-269.5,575.9 L-271.9,581.1 M-288.3,566.7 L-290.9,571.9 M-306.8,556.9 L-309.6,562 M-325,546.5 L-327.9,551.5 M-360.3,523.9 L-363.6,528.7 M-377.3,511.7 L-380.8,516.4 M-394,499 L-397.6,503.6 M-410.2,485.8 L-414,490.2 M-441.3,457.7 L-445.4,461.9 M-456.2,442.9 L-460.3,446.9 M-470.5,427.6 L-474.8,431.5 M-484.4,411.9 L-488.8,415.6 M-510.4,379.1 L-515.1,382.5 M-522.6,362.1 L-527.4,365.4 M-534.3,344.6 L-539.2,347.8 M-545.4,326.8 L-550.3,329.8 M-565.7,290.2 L-570.9,292.9 M-575,271.4 L-580.2,273.9 M-583.6,252.3 L-588.9,254.6 M-591.6,233 L-597,235.1 M-605.6,193.5 L-611.2,195.2 M-611.7,173.4 L-617.3,175 M-617.1,153.2 L-622.7,154.6 M-621.8,132.8 L-627.5,134" stroke-width="2.1"/>
</g>
<g fill="none">
<path d="M-835.2,131.5 A845.5,845.5 0 1 1 833.4,142.8" stroke="#0ba29c" stroke-width="6.8"/>
<path d="M833.4,142.8 A845.5,845.5 0 0 1 309.6,786.8" stroke="#2e3f4f" stroke-width="6"/>
<path d="M309.6,786.8 A845.5,845.5 0 0 1 -320.2,782.5" stroke="#62b4e1" stroke-width="5.2"/>
<path d="M-320.2,782.5 A845.5,845.5 0 0 1 -835.2,131.5" stroke="#2e3f4f" stroke-width="6"/>
</g>
<g font-size="17.3" text-anchor="middle" fill="#000">
<text transform="translate(-647.5,98.7) rotate(261.1)" dy="0.36em" text-anchor="start">0kb</text>
<text transform="translate(-655,-5.6) rotate(270.5)" dy="0.36em">4kb</text>
<text transform="translate(-645.2,-113) rotate(279.9)" dy="0.36em">8kb</text>
<text transform="translate(-617.9,-217.3) rotate(289.4)" dy="0.36em">12kb</text>
<text transform="translate(-573.9,-315.7) rotate(298.8)" dy="0.36em">16kb</text>
<text transform="translate(-514.3,-405.6) rotate(308.3)" dy="0.36em">20kb</text>
<text transform="translate(-440.8,-484.5) rotate(317.7)" dy="0.36em">24kb</text>
<text transform="translate(-355.4,-550.2) rotate(327.1)" dy="0.36em">28kb</text>
<text transform="translate(-260.3,-601.1) rotate(336.6)" dy="0.36em">32kb</text>
<text transform="translate(-158.2,-635.6) rotate(346)" dy="0.36em">36kb</text>
<text transform="translate(-51.8,-653) rotate(355.5)" dy="0.36em">40kb</text>
<text transform="translate(56.1,-652.6) rotate(4.9)" dy="0.36em">44kb</text>
<text transform="translate(162.4,-634.6) rotate(14.4)" dy="0.36em">48kb</text>
<text transform="translate(264.2,-599.3) rotate(23.8)" dy="0.36em">52kb</text>
<text transform="translate(359,-547.9) rotate(33.2)" dy="0.36em">56kb</text>
<text transform="translate(444,-481.6) rotate(42.7)" dy="0.36em">60kb</text>
<text transform="translate(517,-402.2) rotate(52.1)" dy="0.36em">64kb</text>
<text transform="translate(576,-311.9) rotate(61.6)" dy="0.36em">68kb</text>
<text transform="translate(619.3,-213.2) rotate(71)" dy="0.36em">72kb</text>
<text transform="translate(645.9,-108.7) rotate(80.4)" dy="0.36em">76kb</text>
<text transform="translate(655,-1.3) rotate(89.9)" dy="0.36em">80kb</text>
<text transform="translate(646.3,106.2) rotate(279.3)" dy="0.36em">84kb</text>
<text transform="translate(620.2,210.7) rotate(288.8)" dy="0.36em">88kb</text>
<text transform="translate(577.2,309.6) rotate(298.2)" dy="0.36em">92kb</text>
<text transform="translate(518.6,400.1) rotate(307.7)" dy="0.36em">96kb</text>
<text transform="translate(445.9,479.8) rotate(317.1)" dy="0.36em">100kb</text>
<text transform="translate(361.2,546.4) rotate(326.5)" dy="0.36em">104kb</text>
<text transform="translate(266.6,598.3) rotate(336)" dy="0.36em">108kb</text>
<text transform="translate(164.9,633.9) rotate(345.4)" dy="0.36em">112kb</text>
<text transform="translate(58.7,652.4) rotate(354.9)" dy="0.36em">116kb</text>
<text transform="translate(-49.1,653.2) rotate(4.3)" dy="0.36em">120kb</text>
<text transform="translate(-155.6,636.2) rotate(13.7)" dy="0.36em">124kb</text>
<text transform="translate(-257.9,602.1) rotate(23.2)" dy="0.36em">128kb</text>
<text transform="translate(-353.2,551.6) rotate(32.6)" dy="0.36em">132kb</text>
<text transform="translate(-438.9,486.2) rotate(42.1)" dy="0.36em">136kb</text>
<text transform="translate(-512.7,407.6) rotate(51.5)" dy="0.36em">140kb</text>
<text transform="translate(-572.6,318) rotate(61)" dy="0.36em">144kb</text>
<text transform="translate(-617,219.8) rotate(70.4)" dy="0.36em">148kb</text>
<text transform="translate(-646.5,104.9) rotate(79.8)" dy="0.36em" text-anchor="start">152kb</text>
</g>
<path d="M-884.8,138 L-912.5,142.4 M-889.6,103 L-917.4,106.2 M-895.1,27.9 L-902.1,28.1 L-916.3,22.3 L-923.3,22.5 M-894.8,36 L-901.8,36.3 L-915.5,43.1 L-922.5,43.4 M-892.8,-69.8 L-920.7,-72 M-886.4,-127.7 L-914.1,-131.7 M-785.4,-131.2 L-778.5,-130.1 L-764.9,-126.3 L-758,-125.1 M-782.6,-146.9 L-775.7,-145.6 L-761.7,-144.5 L-754.8,-143.2 M-878.3,-175 L-905.8,-180.4 M-775.2,-182 L-747.9,-175.6 M-767.6,-211.7 L-740.6,-204.3 M-857.2,-259.2 L-863.9,-261.3 L-878.7,-260.7 L-885.4,-262.7 M-848.8,-285.6 L-855.4,-287.8 L-872.5,-280.6 L-879.2,-282.8 M-846.5,-292.2 L-853.1,-294.5 L-865.9,-300.3 L-872.6,-302.6 M-844.5,-298.1 L-851.1,-300.5 L-858.9,-319.9 L-865.5,-322.4 M-718,-344.1 L-692.8,-332 M-669.3,-431.4 L-645.7,-416.2 M-599.1,-524.5 L-578.1,-506 M-539.8,-585.4 L-520.8,-564.8 M-515.3,-607 L-497.2,-585.7 M-473.2,-640.4 L-456.5,-617.9 M-443.1,-661.6 L-427.5,-638.3 M-404,-686.2 L-389.7,-662 M-423.3,-789.2 L-436.5,-813.9 M-401,-800.7 L-413.6,-825.8 M-338.9,-720.5 L-326.9,-695.2 M-287,-742.7 L-276.9,-716.6 M-249.6,-756.1 L-240.8,-729.5 M-245.8,-861.1 L-253.5,-888.1 M-202.6,-770 L-200.8,-763.3 L-199.2,-749.2 L-197.4,-742.5 M-188.1,-773.7 L-186.5,-766.9 L-181.2,-753.8 L-179.6,-747 M-206.2,-871.5 L-207.8,-878.3 L-213.5,-891.3 L-215.1,-898.2 M-191.1,-874.9 L-192.6,-881.8 L-193.2,-896 L-194.7,-902.8 M-140.5,-884.5 L-144.9,-912.1 M-58.1,-893.7 L-59.9,-921.6 M45.7,-894.4 L47.2,-922.3 M103,-789.6 L99.4,-761.8 M140.5,-884.5 L144.9,-912.1 M164.3,-880.3 L169.5,-907.9 M174.4,-776.9 L168.3,-749.6 M193.2,-772.4 L186.4,-745.3 M250.3,-859.9 L258.1,-886.8 M273.7,-852.7 L282.3,-879.4 M293.5,-846.1 L302.7,-872.5 M347.9,-825.2 L358.8,-851 M325.1,-726.8 L313.7,-701.3 M381.3,-810.3 L393.2,-835.7 M412.4,-795 L425.2,-819.8 M431.6,-669.1 L416.4,-645.6 M484.9,-631.5 L467.9,-609.3 M524.1,-599.4 L505.7,-578.3 M543,-582.4 L523.9,-561.9 M575.8,-550 L555.5,-530.7 M599.3,-524.2 L578.3,-505.8 M704.1,-553.4 L709.6,-557.7 L707,-583.3 L712.4,-587.7 M707.7,-548.7 L713.3,-553 L720.1,-567.1 L725.6,-571.4 M711.1,-544.4 L716.7,-548.6 L732.7,-550.6 L738.3,-554.8 M716.1,-537.7 L721.7,-541.9 L745,-533.8 L750.7,-537.9 M665.1,-437.7 L659.3,-433.9 L645.2,-429.8 L639.4,-425.9 M670.7,-429.2 L664.8,-425.4 L655.3,-414.2 L649.4,-410.5 M756.1,-479.9 L762,-483.7 L770.7,-496.1 L776.5,-499.9 M760.8,-472.4 L766.7,-476.1 L781.7,-478.5 L787.7,-482.2 M685.3,-405.5 L679.3,-401.9 L666.7,-395.7 L660.7,-392.1 M694.6,-389.3 L688.5,-385.8 L676,-379.6 L669.9,-376.2 M702.6,-374.7 L696.4,-371.4 L684.8,-363.3 L678.7,-360 M799.5,-403.4 L824.5,-416.1 M816,-369 L841.5,-380.5 M833.4,-327.9 L859.4,-338.1 M764.3,-223.4 L737.4,-215.6 M772.9,-191.4 L766.1,-189.8 L752.1,-188.2 L745.3,-186.5 M871.2,-207.6 L898.4,-214.1 M776.4,-176.6 L769.6,-175 L756.3,-170.1 L749.5,-168.6 M782.6,-146.6 L755.1,-141.4 M790.2,-97.6 L762.5,-94.2 M893.4,-62.6 L900.3,-63.1 L914.1,-67.3 L921.1,-67.8 M894.9,-33.1 L901.9,-33.4 L915.4,-46.5 L922.4,-46.9 M895.3,-19.9 L902.3,-20 L916.2,-25.7 L923.2,-25.9 M895.5,-9.4 L902.5,-9.4 L916.5,-4.9 L923.5,-5 M895.5,6.7 L902.5,6.7 L916.4,15.9 L923.4,16 M895.1,28.5 L902.1,28.7 L915.8,36.6 L922.8,36.9 M893.1,66.4 L921,68.5 M888.8,109.4 L895.8,110.2 L909.9,110.2 L916.9,111 M886.2,129.3 L893.1,130.3 L907.2,130.8 L914.1,131.8 M883.8,144.8 L890.7,145.9 L904,151.4 L910.9,152.5 M877.6,178.5 L905,184.1 M870.3,211.3 L877.1,212.9 L891.3,213.5 L898.2,215.1 M866.7,225.6 L873.4,227.4 L886.3,233.6 L893,235.4 M732.9,311.3 L707.1,300.4 M758,476.9 L781.7,491.8 M722.2,529.5 L744.8,546.1 M684.8,577.1 L706.2,595.1 M670.9,593.3 L691.8,611.8 M632.3,634.2 L652.1,654 M543.3,582.1 L524.2,561.6 M518.6,604.2 L500.4,583 M481.5,634.2 L464.5,611.9 M456.3,652.5 L440.2,629.6 M400.9,688 L386.8,663.8 M355.3,712.6 L352.2,706.3 L352.2,690.6 L349,684.4 M344,718.1 L340.9,711.8 L335.6,698.9 L332.5,692.6 M334.6,722.5 L331.7,716.2 L318.7,706.7 L315.9,700.3 M357.8,821 L369,846.6 M300.6,737.3 L290,711.4 M289.7,847.4 L298.8,873.9 M186.8,774 L180.2,746.8 M155.4,780.9 L149.9,753.5 M133.4,785 L128.7,757.4 M94.4,890.6 L97.3,918.4 M58,893.7 L58.4,900.7 L60.3,914.6 L60.7,921.6 M39.5,894.7 L39.9,901.7 L39.5,915.7 L39.8,922.7 M15,895.4 L15.5,923.4 M-14.9,895.4 L-15.3,923.4 M-65.7,893.1 L-67.8,921.1 M-129.3,886.2 L-133.4,913.9 M-158.8,881.4 L-163.8,908.9 M-268.4,854.4 L-276.8,881.1 M-328,725.6 L-316.4,700.1 M-387.3,807.5 L-390.3,813.8 L-389.1,829.9 L-392.1,836.2 M-397.7,802.4 L-400.8,808.7 L-407.8,820.8 L-410.9,827.1 M-410.4,796 L-413.6,802.2 L-426.3,811.4 L-429.6,817.5 M-461.3,767.6 L-475.7,791.6 M-523.1,726.9 L-539.4,749.7 M-551.1,705.9 L-568.3,728 M-592.4,671.6 L-610.9,692.6 M-619.8,646.4 L-639.2,666.6 M-569.7,556.3 L-549.7,536.7 M-678.8,584.2 L-700,602.4 M-615.8,504.8 L-594.1,487.1 M-648.4,462.1 L-625.6,445.8 M-679.6,414.9 L-655.7,400.3 M-828.9,339 L-854.8,349.6 M-773.2,190.2 L-766.4,188.5 L-752.1,187.9 L-745.3,186.2 M-776.2,177.4 L-769.4,175.8 L-756.4,169.9 L-749.6,168.4 M-782.3,148.2 L-754.8,143" fill="none" stroke="#000" stroke-width="2.9" stroke-linejoin="round"/>
<g font-size="21" fill="#000">
<text transform="translate(-917,143.1) rotate(351.1)" text-anchor="end" dy="0.36em">trnH</text>
<text transform="translate(-921.9,106.7) rotate(353.4)" text-anchor="end" dy="0.36em">psbA</text>
<text transform="translate(-927.8,22.6) rotate(358.6)" text-anchor="end" dy="0.36em">trnK</text>
<text transform="translate(-927,43.6) rotate(357.3)" text-anchor="end" dy="0.36em">matK</text>
<text transform="translate(-925.2,-72.3) rotate(4.5)" text-anchor="end" dy="0.36em">rps16</text>
<text transform="translate(-918.6,-132.3) rotate(8.2)" text-anchor="end" dy="0.36em">trnQ</text>
<text transform="translate(-753.6,-124.4) rotate(9.4)" text-anchor="start" dy="0.36em">psbK</text>
<text transform="translate(-750.4,-142.4) rotate(10.7)" text-anchor="start" dy="0.36em">psbI</text>
<text transform="translate(-910.2,-181.3) rotate(11.3)" text-anchor="end" dy="0.36em">trnS</text>
<text transform="translate(-743.5,-174.6) rotate(13.2)" text-anchor="start" dy="0.36em">trnC</text>
<text transform="translate(-736.3,-203.1) rotate(15.4)" text-anchor="start" dy="0.36em">petN</text>
<text transform="translate(-889.7,-264) rotate(16.5)" text-anchor="end" dy="0.36em">psbM</text>
<text transform="translate(-883.5,-284.1) rotate(17.8)" text-anchor="end" dy="0.36em">trnD</text>
<text transform="translate(-876.8,-304.1) rotate(19.1)" text-anchor="end" dy="0.36em">trnY</text>
<text transform="translate(-869.7,-323.9) rotate(20.4)" text-anchor="end" dy="0.36em">trnE</text>
<text transform="translate(-688.7,-330.1) rotate(25.6)" text-anchor="start" dy="0.36em">rpoB</text>
<text transform="translate(-641.9,-413.8) rotate(32.8)" text-anchor="start" dy="0.36em">rpoC1</text>
<text transform="translate(-574.7,-503) rotate(41.2)" text-anchor="start" dy="0.36em">rpoC2</text>
<text transform="translate(-517.7,-561.5) rotate(47.3)" text-anchor="start" dy="0.36em">rps2</text>
<text transform="translate(-494.3,-582.2) rotate(49.7)" text-anchor="start" dy="0.36em">atpI</text>
<text transform="translate(-453.8,-614.3) rotate(53.5)" text-anchor="start" dy="0.36em">atpH</text>
<text transform="translate(-425,-634.6) rotate(56.2)" text-anchor="start" dy="0.36em">atpF</text>
<text transform="translate(-387.5,-658.2) rotate(59.5)" text-anchor="start" dy="0.36em">atpA</text>
<text transform="translate(-438.7,-817.8) rotate(61.8)" text-anchor="end" dy="0.36em">trnR</text>
<text transform="translate(-415.6,-829.8) rotate(63.4)" text-anchor="end" dy="0.36em">trnG</text>
<text transform="translate(-325,-691.1) rotate(64.8)" text-anchor="start" dy="0.36em">trnT</text>
<text transform="translate(-275.3,-712.4) rotate(68.9)" text-anchor="start" dy="0.36em">psbD</text>
<text transform="translate(-239.4,-725.2) rotate(71.7)" text-anchor="start" dy="0.36em">psbC</text>
<text transform="translate(-254.8,-892.4) rotate(74.1)" text-anchor="end" dy="0.36em">trnS</text>
<text transform="translate(-196.2,-738.1) rotate(75.1)" text-anchor="start" dy="0.36em">psbZ</text>
<text transform="translate(-178.5,-742.6) rotate(76.5)" text-anchor="start" dy="0.36em">trnG</text>
<text transform="translate(-216.1,-902.5) rotate(76.5)" text-anchor="end" dy="0.36em">trnfM</text>
<text transform="translate(-195.6,-907.2) rotate(77.8)" text-anchor="end" dy="0.36em">rps14</text>
<text transform="translate(-145.6,-916.6) rotate(81)" text-anchor="end" dy="0.36em">psaB</text>
<text transform="translate(-60.2,-926.1) rotate(86.3)" text-anchor="end" dy="0.36em">psaA</text>
<text transform="translate(47.4,-926.8) rotate(272.9)" text-anchor="start" dy="0.36em">ycf3</text>
<text transform="translate(98.8,-757.3) rotate(277.4)" text-anchor="end" dy="0.36em">trnS</text>
<text transform="translate(145.6,-916.6) rotate(279)" text-anchor="start" dy="0.36em">rps4</text>
<text transform="translate(170.3,-912.3) rotate(280.6)" text-anchor="start" dy="0.36em">trnT</text>
<text transform="translate(167.3,-745.2) rotate(282.7)" text-anchor="end" dy="0.36em">trnL</text>
<text transform="translate(185.3,-740.9) rotate(284)" text-anchor="end" dy="0.36em">trnF</text>
<text transform="translate(259.3,-891.1) rotate(286.2)" text-anchor="start" dy="0.36em">ndhJ</text>
<text transform="translate(283.7,-883.6) rotate(287.8)" text-anchor="start" dy="0.36em">ndhK</text>
<text transform="translate(304.1,-876.8) rotate(289.1)" text-anchor="start" dy="0.36em">ndhC</text>
<text transform="translate(360.5,-855.2) rotate(292.9)" text-anchor="start" dy="0.36em">trnV</text>
<text transform="translate(311.9,-697.2) rotate(294.1)" text-anchor="end" dy="0.36em">trnM</text>
<text transform="translate(395.1,-839.7) rotate(295.2)" text-anchor="start" dy="0.36em">atpE</text>
<text transform="translate(427.3,-823.8) rotate(297.4)" text-anchor="start" dy="0.36em">atpB</text>
<text transform="translate(414,-641.8) rotate(302.8)" text-anchor="end" dy="0.36em">rbcL</text>
<text transform="translate(465.1,-605.8) rotate(307.5)" text-anchor="end" dy="0.36em">accD</text>
<text transform="translate(502.7,-575) rotate(311.2)" text-anchor="end" dy="0.36em">psaI</text>
<text transform="translate(520.8,-558.6) rotate(313)" text-anchor="end" dy="0.36em">ycf4</text>
<text transform="translate(552.3,-527.6) rotate(316.3)" text-anchor="end" dy="0.36em">cemA</text>
<text transform="translate(574.9,-502.8) rotate(318.8)" text-anchor="end" dy="0.36em">petA</text>
<text transform="translate(715.9,-590.6) rotate(320.5)" text-anchor="start" dy="0.36em">psbJ</text>
<text transform="translate(729.1,-574.2) rotate(321.8)" text-anchor="start" dy="0.36em">psbL</text>
<text transform="translate(741.9,-557.5) rotate(323.1)" text-anchor="start" dy="0.36em">psbF</text>
<text transform="translate(754.4,-540.5) rotate(324.4)" text-anchor="start" dy="0.36em">psbE</text>
<text transform="translate(635.6,-423.4) rotate(326.3)" text-anchor="end" dy="0.36em">petL</text>
<text transform="translate(645.6,-408.1) rotate(327.7)" text-anchor="end" dy="0.36em">petG</text>
<text transform="translate(780.3,-502.4) rotate(327.2)" text-anchor="start" dy="0.36em">trnW</text>
<text transform="translate(791.5,-484.5) rotate(328.5)" text-anchor="start" dy="0.36em">trnP</text>
<text transform="translate(656.8,-389.8) rotate(329.3)" text-anchor="end" dy="0.36em">psaJ</text>
<text transform="translate(665.9,-374) rotate(330.7)" text-anchor="end" dy="0.36em">rpl33</text>
<text transform="translate(674.7,-357.9) rotate(332.1)" text-anchor="end" dy="0.36em">rps18</text>
<text transform="translate(828.5,-418.1) rotate(333.2)" text-anchor="start" dy="0.36em">rpl20</text>
<text transform="translate(845.6,-382.4) rotate(335.7)" text-anchor="start" dy="0.36em">rps12</text>
<text transform="translate(863.6,-339.8) rotate(338.5)" text-anchor="start" dy="0.36em">clpP</text>
<text transform="translate(733.1,-214.3) rotate(343.7)" text-anchor="end" dy="0.36em">psbB</text>
<text transform="translate(740.9,-185.4) rotate(346)" text-anchor="end" dy="0.36em">psbT</text>
<text transform="translate(902.8,-215.1) rotate(346.6)" text-anchor="start" dy="0.36em">pbf1</text>
<text transform="translate(745.1,-167.6) rotate(347.3)" text-anchor="end" dy="0.36em">psbH</text>
<text transform="translate(750.7,-140.6) rotate(349.4)" text-anchor="end" dy="0.36em">petB</text>
<text transform="translate(758,-93.6) rotate(353)" text-anchor="end" dy="0.36em">petD</text>
<text transform="translate(925.5,-68.1) rotate(355.8)" text-anchor="start" dy="0.36em">rpoA</text>
<text transform="translate(926.9,-47.1) rotate(357.1)" text-anchor="start" dy="0.36em">rps11</text>
<text transform="translate(927.7,-26.1) rotate(358.4)" text-anchor="start" dy="0.36em">rpl36</text>
<text transform="translate(928,-5) rotate(359.7)" text-anchor="start" dy="0.36em">infA</text>
<text transform="translate(927.9,16.1) rotate(1)" text-anchor="start" dy="0.36em">rps8</text>
<text transform="translate(927.3,37.1) rotate(2.3)" text-anchor="start" dy="0.36em">rpl14</text>
<text transform="translate(925.5,68.8) rotate(4.3)" text-anchor="start" dy="0.36em">rpl16</text>
<text transform="translate(921.3,111.6) rotate(6.9)" text-anchor="start" dy="0.36em">rps3</text>
<text transform="translate(918.5,132.5) rotate(8.2)" text-anchor="start" dy="0.36em">rpl22</text>
<text transform="translate(915.3,153.3) rotate(9.5)" text-anchor="start" dy="0.36em">rps19</text>
<text transform="translate(909.4,185) rotate(11.5)" text-anchor="start" dy="0.36em">rpl2</text>
<text transform="translate(902.5,216.2) rotate(13.5)" text-anchor="start" dy="0.36em">rpl23</text>
<text transform="translate(897.4,236.6) rotate(14.8)" text-anchor="start" dy="0.36em">trnI</text>
<text transform="translate(702.9,298.6) rotate(23)" text-anchor="end" dy="0.36em">ycf2</text>
<text transform="translate(785.5,494.2) rotate(32.2)" text-anchor="start" dy="0.36em">trnL</text>
<text transform="translate(748.4,548.7) rotate(36.2)" text-anchor="start" dy="0.36em">ndhB</text>
<text transform="translate(709.7,598) rotate(40.1)" text-anchor="start" dy="0.36em">rps7</text>
<text transform="translate(695.2,614.8) rotate(41.5)" text-anchor="start" dy="0.36em">rps12</text>
<text transform="translate(655.2,657.2) rotate(45.1)" text-anchor="start" dy="0.36em">ycf15</text>
<text transform="translate(521.1,558.4) rotate(47)" text-anchor="end" dy="0.36em">trnV</text>
<text transform="translate(497.4,579.5) rotate(49.4)" text-anchor="end" dy="0.36em">rrn16</text>
<text transform="translate(461.8,608.3) rotate(52.8)" text-anchor="end" dy="0.36em">trnI</text>
<text transform="translate(437.7,625.9) rotate(55)" text-anchor="end" dy="0.36em">trnA</text>
<text transform="translate(384.5,659.9) rotate(59.8)" text-anchor="end" dy="0.36em">rrn23</text>
<text transform="translate(346.9,680.4) rotate(63)" text-anchor="end" dy="0.36em">rrn4.5</text>
<text transform="translate(330.6,688.5) rotate(64.4)" text-anchor="end" dy="0.36em">rrn5</text>
<text transform="translate(314,696.2) rotate(65.7)" text-anchor="end" dy="0.36em">trnR</text>
<text transform="translate(370.8,850.8) rotate(66.4)" text-anchor="start" dy="0.36em">trnN</text>
<text transform="translate(288.3,707.2) rotate(67.8)" text-anchor="end" dy="0.36em">ycf1 *</text>
<text transform="translate(300.3,878.1) rotate(71.1)" text-anchor="start" dy="0.36em">ndhF</text>
<text transform="translate(179.1,742.4) rotate(76.4)" text-anchor="end" dy="0.36em">rpl32</text>
<text transform="translate(149,749.1) rotate(78.7)" text-anchor="end" dy="0.36em">trnL</text>
<text transform="translate(128,752.9) rotate(80.4)" text-anchor="end" dy="0.36em">ccsA</text>
<text transform="translate(97.8,922.9) rotate(84)" text-anchor="start" dy="0.36em">ndhD</text>
<text transform="translate(61,926) rotate(86.2)" text-anchor="start" dy="0.36em">psaC</text>
<text transform="translate(40,927.2) rotate(87.5)" text-anchor="start" dy="0.36em">ndhE</text>
<text transform="translate(15.6,927.9) rotate(89)" text-anchor="start" dy="0.36em">ndhG</text>
<text transform="translate(-15.4,927.9) rotate(271)" text-anchor="end" dy="0.36em">ndhI</text>
<text transform="translate(-68.1,925.5) rotate(274.2)" text-anchor="end" dy="0.36em">ndhA</text>
<text transform="translate(-134,918.3) rotate(278.3)" text-anchor="end" dy="0.36em">ndhH</text>
<text transform="translate(-164.6,913.3) rotate(280.2)" text-anchor="end" dy="0.36em">rps15</text>
<text transform="translate(-278.1,885.4) rotate(287.4)" text-anchor="end" dy="0.36em">ycf1</text>
<text transform="translate(-314.6,696) rotate(294.3)" text-anchor="start" dy="0.36em">trnN</text>
<text transform="translate(-394,840.3) rotate(295.1)" text-anchor="end" dy="0.36em">trnR</text>
<text transform="translate(-412.9,831.1) rotate(296.4)" text-anchor="end" dy="0.36em">rrn5</text>
<text transform="translate(-431.7,821.5) rotate(297.7)" text-anchor="end" dy="0.36em">rrn4.5</text>
<text transform="translate(-478,795.5) rotate(301)" text-anchor="end" dy="0.36em">rrn23</text>
<text transform="translate(-542,753.3) rotate(305.7)" text-anchor="end" dy="0.36em">trnA</text>
<text transform="translate(-571.1,731.5) rotate(308)" text-anchor="end" dy="0.36em">trnI</text>
<text transform="translate(-613.9,696) rotate(311.4)" text-anchor="end" dy="0.36em">rrn16</text>
<text transform="translate(-642.3,669.9) rotate(313.8)" text-anchor="end" dy="0.36em">trnV</text>
<text transform="translate(-546.5,533.5) rotate(315.7)" text-anchor="start" dy="0.36em">ycf15</text>
<text transform="translate(-703.4,605.4) rotate(319.3)" text-anchor="end" dy="0.36em">rps12</text>
<text transform="translate(-590.6,484.2) rotate(320.7)" text-anchor="start" dy="0.36em">rps7</text>
<text transform="translate(-622,443.2) rotate(324.5)" text-anchor="start" dy="0.36em">ndhB</text>
<text transform="translate(-651.9,397.9) rotate(328.6)" text-anchor="start" dy="0.36em">trnL</text>
<text transform="translate(-859,351.3) rotate(337.8)" text-anchor="end" dy="0.36em">ycf2</text>
<text transform="translate(-741,185.2) rotate(346)" text-anchor="start" dy="0.36em">trnI</text>
<text transform="translate(-745.2,167.4) rotate(347.3)" text-anchor="start" dy="0.36em">rpl23</text>
<text transform="translate(-750.4,142.1) rotate(349.3)" text-anchor="start" dy="0.36em">rpl2</text>
</g>
<path id="pl" d="M-275.3,-258.3 A377.5,377.5 0 0 1 278.7,-254.6" fill="none"/>
<path id="pa" d="M174.4,394.7 A431.5,431.5 0 0 0 421.9,90.3" fill="none"/>
<path id="ps" d="M-260.8,298.6 A396.5,396.5 0 0 0 256.8,302.1" fill="none"/>
<path id="pb" d="M-423.1,84.6 A431.5,431.5 0 0 0 -179.7,392.3" fill="none"/>
<g font-size="28" text-anchor="middle">
<text font-size="27.3"><textPath href="#pl" startOffset="50%">LSC: 84,168</textPath></text>
<text fill="#fff" font-size="27.2"><textPath href="#pa" startOffset="50%">IRA: 24,909</textPath></text>
<text font-size="28.6"><textPath href="#ps" startOffset="50.6%">SSC: 18,528</textPath></text>
<text fill="#fff" font-size="27.2"><textPath href="#pb" startOffset="50%">IRB: 24,909</textPath></text>
</g>
</g>
<text transform="translate(1252,942.5) scale(1.07,1)" font-size="39" font-weight="bold" font-style="italic" text-anchor="middle">Soroseris hookeriana</text>
<text transform="translate(1247,1041.5) scale(1.05,1)" font-size="30.3" font-weight="bold" text-anchor="middle">152,514 bp</text>
<text transform="translate(1246.5,1093) scale(1.05,1)" font-size="30" font-weight="bold" text-anchor="middle">GC:38%</text>
<g font-size="21.8">
<rect x="21.5" y="1618.6" width="16.8" height="13.4" fill="#07632f" stroke="#000" stroke-width="2.9"/>
<text transform="translate(59.6,1633.1) scale(1.112,1)">photosystem I</text>
<rect x="21.5" y="1646.8" width="16.8" height="13.4" fill="#0c8c39" stroke="#000" stroke-width="2.9"/>
<text transform="translate(59.6,1661.3) scale(1.112,1)">photosystem II</text>
<rect x="21.5" y="1675.8" width="16.8" height="13.4" fill="#739d33" stroke="#000" stroke-width="2.9"/>
<text transform="translate(59.6,1690.3) scale(1.112,1)">cytochrome b/f complex</text>
<rect x="21.5" y="1703.7" width="16.8" height="13.4" fill="#9abf2e" stroke="#000" stroke-width="2.9"/>
<text transform="translate(59.6,1718.2) scale(1.112,1)">ATP synthesis</text>
<rect x="21.5" y="1732.5" width="16.8" height="13.4" fill="#fdee47" stroke="#000" stroke-width="2.9"/>
<text transform="translate(59.6,1747) scale(1.112,1)">NADH dehydrogenase</text>
<rect x="21.5" y="1761.2" width="16.8" height="13.4" fill="#0ea242" stroke="#000" stroke-width="2.9"/>
<text transform="translate(59.6,1775.7) scale(1.112,1)">RubisCO larg subunit</text>
<rect x="21.5" y="1789.6" width="16.8" height="13.4" fill="#c92a2a" stroke="#000" stroke-width="2.9"/>
<text transform="translate(59.6,1804.1) scale(1.112,1)">RNA polymerase</text>
<rect x="21.5" y="1818.1" width="16.8" height="13.4" fill="#e8b57e" stroke="#000" stroke-width="2.9"/>
<text transform="translate(59.6,1832.6) scale(1.112,1)">small ribosomal protein</text>
<rect x="21.5" y="1847.3" width="16.8" height="13.4" fill="#a87c4a" stroke="#000" stroke-width="2.9"/>
<text transform="translate(59.6,1861.8) scale(1.112,1)">large ribosomal protein</text>
<rect x="21.5" y="1875.5" width="16.8" height="13.4" fill="#f96b23" stroke="#000" stroke-width="2.9"/>
<text transform="translate(59.6,1890) scale(1.112,1)">clpP, matK, infA</text>
<rect x="21.5" y="1903.5" width="16.8" height="13.4" fill="#43bfad" stroke="#000" stroke-width="2.9"/>
<text transform="translate(59.6,1918) scale(1.112,1)">hypothetical reading frame</text>
<rect x="21.5" y="1932.5" width="16.8" height="13.4" fill="#1c2f86" stroke="#000" stroke-width="2.9"/>
<text transform="translate(59.6,1947) scale(1.112,1)">transfer RNA</text>
<rect x="21.5" y="1959.4" width="16.8" height="13.4" fill="#f93627" stroke="#000" stroke-width="2.9"/>
<text transform="translate(59.6,1973.9) scale(1.112,1)">ribosomal RNA</text>
<rect x="21.5" y="1985.3" width="16.8" height="13.4" fill="#808080" stroke="#000" stroke-width="2.9"/>
<text transform="translate(59.6,1999.8) scale(1.112,1)">other</text>
</g>
</svg>
</body></html>
